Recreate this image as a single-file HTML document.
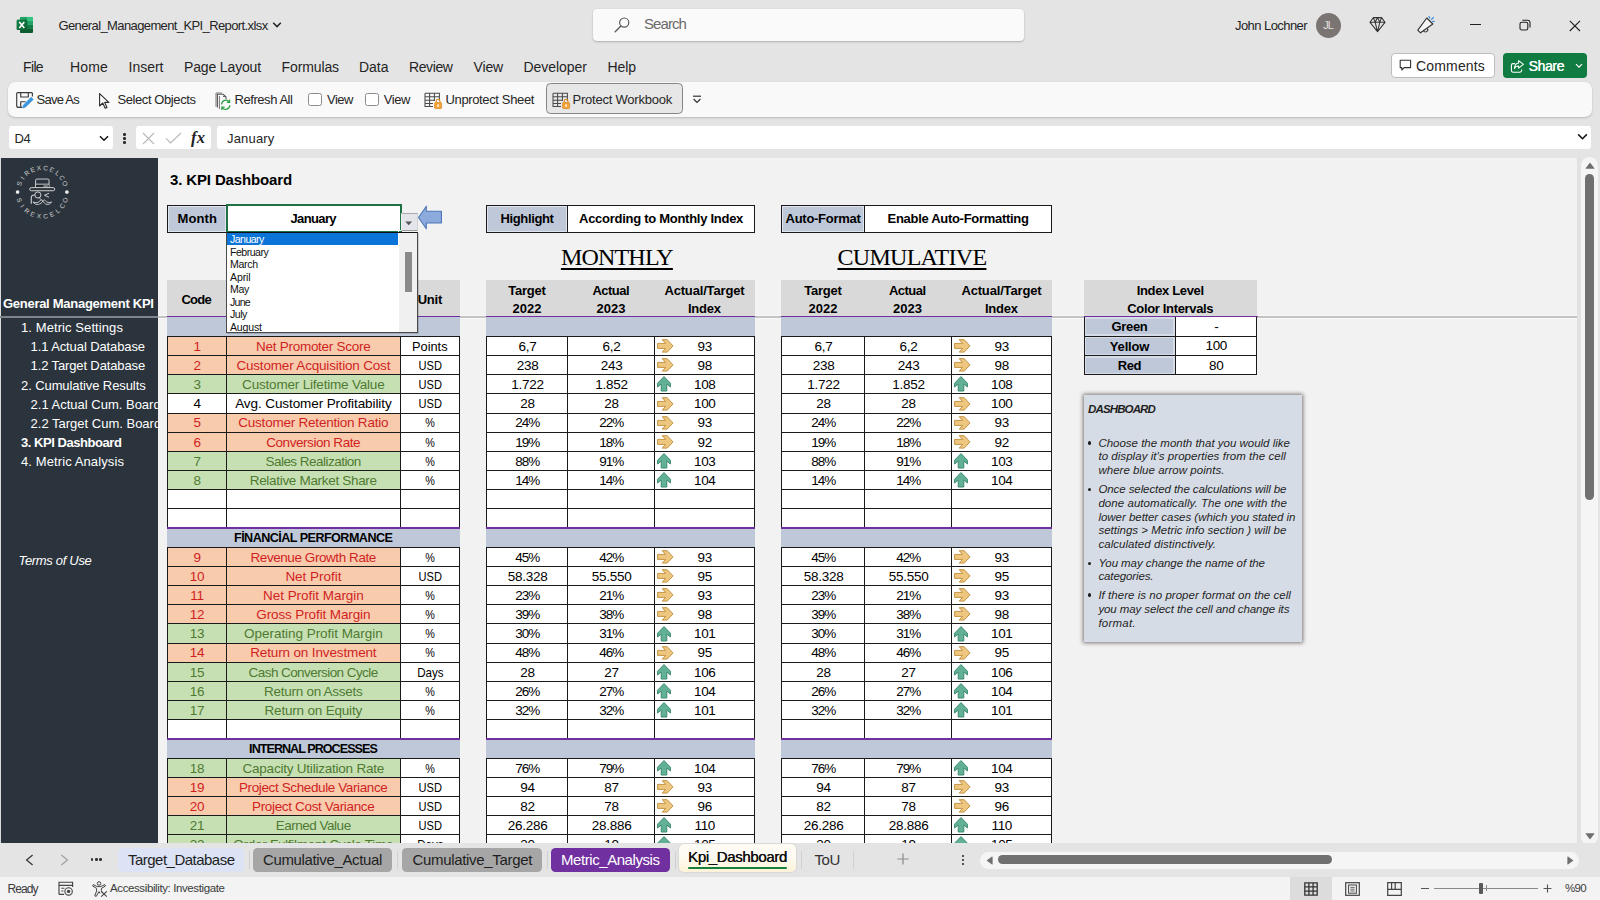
<!DOCTYPE html>
<html><head><meta charset="utf-8"><title>Excel</title>
<style>
html,body{margin:0;padding:0;}
body{width:1600px;height:900px;overflow:hidden;position:relative;background:#e4e4e4;font-family:"Liberation Sans",sans-serif;}
div,svg{position:absolute;box-sizing:border-box;}
svg{overflow:visible;}
</style></head><body>
<svg style="left:16.00px;top:16.00px;" width="17" height="17" viewBox="0 0 17 17">
<clipPath id="xlc"><rect x="3.9" y="0.75" width="13.1" height="16.25" rx="1.1"/></clipPath>
<g clip-path="url(#xlc)">
<rect x="3.9" y="0.75" width="7.1" height="4.1" fill="#21a366"/><rect x="11" y="0.75" width="6" height="4.1" fill="#33c481"/>
<rect x="3.9" y="4.85" width="7.1" height="4.05" fill="#107c41"/><rect x="11" y="4.85" width="6" height="4.05" fill="#21a366"/>
<rect x="3.9" y="8.9" width="7.1" height="4.05" fill="#185c37"/><rect x="11" y="8.9" width="6" height="4.05" fill="#107c41"/>
<rect x="3.9" y="12.95" width="13.1" height="4.05" fill="#0e5c2f"/>
</g>
<rect x="0.75" y="3.85" width="10.5" height="10.15" rx="1" fill="#0b6e38"/>
<rect x="0.75" y="3.85" width="10.5" height="10.15" rx="1" fill="url(#xlg)"/>
<defs><linearGradient id="xlg" x1="0" y1="0" x2="1" y2="1"><stop offset="0" stop-color="#17864a"/><stop offset="1" stop-color="#0a5e30"/></linearGradient></defs>
<path d="M3.3 5.9 L8.3 12 M8.3 5.9 L3.3 12" stroke="#fff" stroke-width="1.55" fill="none"/>
</svg>
<div style="left:58.50px;top:16.50px;line-height:17px;font-size:13px;color:#242424;white-space:nowrap;letter-spacing:-0.611px;">General_Management_KPI_Report.xlsx</div>
<svg style="left:272.00px;top:21.00px;" width="10" height="8" viewBox="0 0 10 8"><path d="M1.2 1.8 L5 5.6 L8.8 1.8" stroke="#242424" stroke-width="1.5" fill="none"/></svg>
<div style="left:593.00px;top:9.00px;width:431.00px;height:32.00px;background:#fafafa;border-radius:4px;box-shadow:0 1px 2px rgba(0,0,0,.22),0 0 1px rgba(0,0,0,.12);"></div>
<svg style="left:614.00px;top:16.00px;" width="17" height="17" viewBox="0 0 17 17"><circle cx="10.2" cy="6.6" r="4.6" stroke="#5a5a5a" stroke-width="1.2" fill="none"/><path d="M6.9 10 L1.2 15.8" stroke="#5a5a5a" stroke-width="1.3" stroke-linecap="round"/></svg>
<div style="left:644.00px;top:14.30px;line-height:20px;font-size:15px;color:#6a6a6a;white-space:nowrap;letter-spacing:-0.921px;">Search</div>
<div style="left:1235.00px;top:17.00px;line-height:17px;font-size:13px;color:#242424;white-space:nowrap;letter-spacing:-0.565px;">John Lochner</div>
<div style="left:1315.50px;top:12.50px;width:25.00px;height:25.00px;background:#7a7473;border-radius:50%;"></div>
<div style="left:1323.14px;top:18.40px;line-height:14px;font-size:11px;color:#e4e0de;white-space:nowrap;letter-spacing:-0.900px;">JL</div>
<svg style="left:1369.00px;top:16.00px;" width="17" height="17" viewBox="0 0 17 17"><path d="M4.4 1.6 H12.6 L16 6.3 L8.5 15.6 L1 6.3 Z M1 6.3 H16 M4.4 1.6 L6.2 6.3 L8.5 15.6 L10.8 6.3 L12.6 1.6 M6.2 6.3 L8.5 1.6 L10.8 6.3" stroke="#333" stroke-width="1.05" fill="none" stroke-linejoin="round"/></svg>
<svg style="left:1416.00px;top:15.00px;" width="20" height="19" viewBox="0 0 20 19"><path d="M1.8 15.2 L10.8 3 L16.8 9 L4.5 17.8 Z" stroke="#333" stroke-width="1.15" fill="#f4f4f4" stroke-linejoin="round"/><path d="M7.4 15.8 A2.1 2.1 0 0 0 11.4 13.4" stroke="#333" stroke-width="1.05" fill="none"/><path d="M13 1.6 L13.8 3 M15.6 4.4 L17.4 2.4 M16.6 6.6 L18.2 6.2" stroke="#2b88d8" stroke-width="1.15" stroke-linecap="round"/></svg>
<div style="left:1470.00px;top:24.00px;width:10.50px;height:1.20px;background:#222;"></div>
<svg style="left:1519.00px;top:19.00px;" width="12" height="12" viewBox="0 0 12 12"><rect x="1" y="3.2" width="7.8" height="7.8" rx="1.8" stroke="#222" stroke-width="1.1" fill="none"/><path d="M3.4 1.2 H8.8 A2.2 2.2 0 0 1 11 3.4 V8.6" stroke="#222" stroke-width="1.1" fill="none"/></svg>
<svg style="left:1569.00px;top:19.50px;" width="12" height="12" viewBox="0 0 12 12"><path d="M0.8 0.8 L11 11 M11 0.8 L0.8 11" stroke="#222" stroke-width="1.15"/></svg>
<div style="left:23.00px;top:57.50px;line-height:18px;font-size:14px;color:#242424;white-space:nowrap;letter-spacing:-0.640px;">File</div>
<div style="left:70.00px;top:57.50px;line-height:18px;font-size:14px;color:#242424;white-space:nowrap;letter-spacing:0.164px;">Home</div>
<div style="left:128.50px;top:57.50px;line-height:18px;font-size:14px;color:#242424;white-space:nowrap;letter-spacing:-0.002px;">Insert</div>
<div style="left:184.00px;top:57.50px;line-height:18px;font-size:14px;color:#242424;white-space:nowrap;letter-spacing:-0.147px;">Page Layout</div>
<div style="left:281.50px;top:57.50px;line-height:18px;font-size:14px;color:#242424;white-space:nowrap;letter-spacing:-0.106px;">Formulas</div>
<div style="left:359.00px;top:57.50px;line-height:18px;font-size:14px;color:#242424;white-space:nowrap;letter-spacing:-0.018px;">Data</div>
<div style="left:409.00px;top:57.50px;line-height:18px;font-size:14px;color:#242424;white-space:nowrap;letter-spacing:-0.401px;">Review</div>
<div style="left:473.50px;top:57.50px;line-height:18px;font-size:14px;color:#242424;white-space:nowrap;letter-spacing:-0.148px;">View</div>
<div style="left:523.50px;top:57.50px;line-height:18px;font-size:14px;color:#242424;white-space:nowrap;letter-spacing:-0.035px;">Developer</div>
<div style="left:607.50px;top:57.50px;line-height:18px;font-size:14px;color:#242424;white-space:nowrap;letter-spacing:-0.073px;">Help</div>
<div style="left:1391.00px;top:53.00px;width:103.50px;height:25.00px;background:#fff;border:1px solid #bdbdbd;border-radius:4px;"></div>
<svg style="left:1399.00px;top:59.00px;" width="13" height="13" viewBox="0 0 13 13"><path d="M1.2 1.2 H11.6 V8.6 H5.2 L2.8 11 V8.6 H1.2 Z" stroke="#333" stroke-width="1.1" fill="none" stroke-linejoin="round"/></svg>
<div style="left:1416.00px;top:57.00px;line-height:18px;font-size:14px;color:#242424;white-space:nowrap;letter-spacing:0.165px;">Comments</div>
<div style="left:1503.00px;top:53.00px;width:84.00px;height:25.00px;background:#107c41;border-radius:4px;"></div>
<svg style="left:1510.00px;top:58.50px;" width="15" height="15" viewBox="0 0 15 15"><path d="M5 4.6 H3 A1.6 1.6 0 0 0 1.4 6.2 V11.6 A1.6 1.6 0 0 0 3 13.2 H10 A1.6 1.6 0 0 0 11.6 11.6 V10.4" stroke="#fff" stroke-width="1.1" fill="none"/><path d="M8.6 1.6 L13.4 5.4 L8.6 9.2 V7 C6.6 7 5.2 7.8 4.4 9.6 C4.6 6.4 6 4.2 8.6 3.9 Z" stroke="#fff" stroke-width="1.05" fill="none" stroke-linejoin="round"/></svg>
<div style="left:1528.50px;top:57.00px;line-height:18px;font-size:14px;color:#fff;white-space:nowrap;letter-spacing:-0.372px;text-shadow:0.3px 0 0 #fff;">Share</div>
<svg style="left:1575.00px;top:63.00px;" width="8" height="6" viewBox="0 0 8 6"><path d="M1 1.2 L4 4.2 L7 1.2" stroke="#fff" stroke-width="1.2" fill="none"/></svg>
<div style="left:8.00px;top:82.00px;width:1583.80px;height:34.50px;background:#f9f9f9;border-radius:7px;box-shadow:0 1px 2px rgba(0,0,0,.18),0 0 1px rgba(0,0,0,.10);"></div>
<svg style="left:15.50px;top:92.00px;" width="18" height="17" viewBox="0 0 18 17"><path d="M16.4 4.6 V1.6 Q16.4 0.6 15.4 0.6 H1.7 Q0.7 0.6 0.7 1.6 V13.4 Q0.7 15.4 2.6 15.4 H6.2 M4.7 0.6 V5 H12.3 V0.6 M4.7 15.4 V9.7 H9.6" stroke="#3b3b3b" stroke-width="1.15" fill="none" stroke-linejoin="round"/><path d="M15.1 5.2 L17.3 7.4 L9.6 15.1 L6.6 16 L7.5 13 Z" fill="#3a96dd" stroke="#2b7fc4" stroke-width=".5" stroke-linejoin="round"/></svg>
<div style="left:36.60px;top:91.00px;line-height:17px;font-size:13px;color:#262626;white-space:nowrap;letter-spacing:-0.756px;">Save As</div>
<svg style="left:97.50px;top:92.00px;" width="13" height="18" viewBox="0 0 13 18"><path d="M1.6 1.6 V14 L4.8 11 L7.2 16.2 L9 15.4 L6.7 10.4 H10.8 Z" stroke="#2b2b2b" stroke-width="1.1" fill="#fff" stroke-linejoin="round"/></svg>
<div style="left:117.50px;top:91.00px;line-height:17px;font-size:13px;color:#262626;white-space:nowrap;letter-spacing:-0.415px;">Select Objects</div>
<svg style="left:214.50px;top:91.50px;" width="17" height="19" viewBox="0 0 17 19"><path d="M2.4 15.6 V2.2 H8.2 L11 5 V7" stroke="#555" stroke-width="1.1" fill="none"/><path d="M4.4 17 V4 M1 14.6 V1 H7" stroke="#777" stroke-width="1" fill="none"/><path d="M8 4.4 H11" stroke="#555" stroke-width="1"/><path d="M6.6 12.4 A4.2 4.2 0 0 1 14.2 10 M14.6 7.6 V10.4 H11.8 M14.8 13.2 A4.2 4.2 0 0 1 7.2 15.6 M6.8 18 V15.2 H9.6" stroke="#2ea043" stroke-width="1.25" fill="none"/></svg>
<div style="left:234.50px;top:91.00px;line-height:17px;font-size:13px;color:#262626;white-space:nowrap;letter-spacing:-0.442px;">Refresh All</div>
<div style="left:308.00px;top:92.50px;width:13.50px;height:13.50px;background:#fff;border:1px solid #8c8c8c;border-radius:2.5px;"></div>
<div style="left:327.00px;top:91.00px;line-height:17px;font-size:13px;color:#262626;white-space:nowrap;letter-spacing:-0.485px;">View</div>
<div style="left:365.00px;top:92.50px;width:13.50px;height:13.50px;background:#fff;border:1px solid #8c8c8c;border-radius:2.5px;"></div>
<div style="left:383.80px;top:91.00px;line-height:17px;font-size:13px;color:#262626;white-space:nowrap;letter-spacing:-0.485px;">View</div>
<svg style="left:423.50px;top:92.00px;" width="18" height="17" viewBox="0 0 18 17"><path d="M1 1.2 H15.4 V9 M1 1.2 V14.4 H9 M1 4.8 H15.4 M1 8.2 H11 M1 11.4 H9 M5.6 1.2 V14.4 M10.4 1.2 V9" stroke="#4a4a4a" stroke-width="1.05" fill="none"/><rect x="10.6" y="10.6" width="7" height="6" rx=".8" fill="#f3a63a" stroke="#d9801a" stroke-width=".7"/><rect x="13.3" y="12.4" width="1.6" height="2.4" fill="#fff3dd"/><path d="M12.2 10.6 V9.2 A1.9 1.9 0 0 1 16 9.2 V10.6" stroke="#e08a1c" stroke-width="1.1" fill="none"/></svg>
<div style="left:445.50px;top:91.00px;line-height:17px;font-size:13px;color:#262626;white-space:nowrap;letter-spacing:-0.363px;">Unprotect Sheet</div>
<div style="left:546.00px;top:83.00px;width:136.50px;height:31.40px;background:#e7e7e7;border:1px solid #858585;border-radius:4.5px;"></div>
<svg style="left:551.50px;top:92.00px;" width="18" height="17" viewBox="0 0 18 17"><path d="M1 1.2 H15.4 V9 M1 1.2 V14.4 H9 M1 4.8 H15.4 M1 8.2 H11 M1 11.4 H9 M5.6 1.2 V14.4 M10.4 1.2 V9" stroke="#4a4a4a" stroke-width="1.05" fill="none"/><rect x="10.6" y="10.6" width="7" height="6" rx=".8" fill="#f3a63a" stroke="#d9801a" stroke-width=".7"/><rect x="13.3" y="12.4" width="1.6" height="2.4" fill="#fff3dd"/><path d="M12.2 10.6 V9.2 A1.9 1.9 0 0 1 16 9.2 V10.6" stroke="#e08a1c" stroke-width="1.1" fill="none"/></svg>
<div style="left:572.50px;top:91.00px;line-height:17px;font-size:13px;color:#262626;white-space:nowrap;letter-spacing:-0.224px;">Protect Workbook</div>
<svg style="left:692.00px;top:95.00px;" width="10" height="9" viewBox="0 0 10 9"><path d="M1 1.2 H9" stroke="#333" stroke-width="1.2"/><path d="M1.6 4 L5 7.4 L8.4 4" stroke="#333" stroke-width="1.2" fill="none"/></svg>
<div style="left:9.00px;top:126.00px;width:104.00px;height:23.00px;background:#fff;border-radius:3px;"></div>
<div style="left:14.50px;top:129.50px;line-height:17px;font-size:13px;color:#242424;white-space:nowrap;letter-spacing:-0.309px;">D4</div>
<svg style="left:99.00px;top:135.00px;" width="10" height="7" viewBox="0 0 10 7"><path d="M1 1.2 L5 5.2 L9 1.2" stroke="#111" stroke-width="1.5" fill="none"/></svg>
<div style="left:123.40px;top:133.20px;width:2.50px;height:2.50px;background:#2a2a2a;border-radius:50%;"></div>
<div style="left:123.40px;top:137.20px;width:2.50px;height:2.50px;background:#2a2a2a;border-radius:50%;"></div>
<div style="left:123.40px;top:141.20px;width:2.50px;height:2.50px;background:#2a2a2a;border-radius:50%;"></div>
<div style="left:136.00px;top:126.00px;width:75.00px;height:23.00px;background:#fff;border-radius:3px;"></div>
<svg style="left:142.00px;top:131.50px;" width="13" height="13" viewBox="0 0 13 13"><path d="M1 1 L12 12 M12 1 L1 12" stroke="#b8b8b8" stroke-width="1.1"/></svg>
<svg style="left:165.00px;top:132.00px;" width="17" height="12" viewBox="0 0 17 12"><path d="M1 6.4 L5.6 11 L16 1" stroke="#b8b8b8" stroke-width="1.1" fill="none"/></svg>
<div style="left:191.00px;top:126.70px;line-height:21px;font-size:16.5px;color:#222;white-space:nowrap;font-weight:bold;font-style:italic;font-family:'Liberation Serif',serif;letter-spacing:0.377px;">fx</div>
<div style="left:217.00px;top:126.00px;width:1374.00px;height:23.00px;background:#fff;border-radius:3px;"></div>
<div style="left:227.00px;top:129.50px;line-height:17px;font-size:13px;color:#242424;white-space:nowrap;letter-spacing:0.179px;">January</div>
<svg style="left:1577.00px;top:133.40px;" width="11" height="8" viewBox="0 0 11 8"><path d="M1.2 1.4 L5.5 5.7 L9.8 1.4" stroke="#111" stroke-width="1.5" fill="none"/></svg>
<div style="left:0;top:157.6px;width:1577.3px;height:685.6px;background:#f2f2f2;overflow:hidden;">
<div style="left:0.00px;top:0.00px;width:1.20px;height:700.00px;background:#d8dadb;"></div>
<div style="left:1.20px;top:0.00px;width:156.40px;height:700.00px;background:#2b343d;"></div>
<svg style="left:8.00px;top:2.40px;" width="70" height="64" viewBox="0 0 70 64"><g font-family="Liberation Sans" font-size="6.5" fill="#cfcfcf"><text transform="translate(13.57 24.48) rotate(-70.0)" text-anchor="middle">S</text><text transform="translate(16.35 19.21) rotate(-54.4)" text-anchor="middle">I</text><text transform="translate(20.43 14.88) rotate(-38.9)" text-anchor="middle">R</text><text transform="translate(25.53 11.80) rotate(-23.3)" text-anchor="middle">E</text><text transform="translate(31.27 10.21) rotate(-7.8)" text-anchor="middle">X</text><text transform="translate(37.22 10.21) rotate(7.8)" text-anchor="middle">C</text><text transform="translate(42.96 11.80) rotate(23.3)" text-anchor="middle">E</text><text transform="translate(48.06 14.88) rotate(38.9)" text-anchor="middle">L</text><text transform="translate(52.14 19.21) rotate(54.4)" text-anchor="middle">C</text><text transform="translate(54.92 24.48) rotate(70.0)" text-anchor="middle">O</text><text transform="translate(9.17 40.88) rotate(70.5)" text-anchor="middle">S</text><text transform="translate(12.50 47.33) rotate(54.8)" text-anchor="middle">I</text><text transform="translate(17.45 52.63) rotate(39.2)" text-anchor="middle">R</text><text transform="translate(23.64 56.40) rotate(23.5)" text-anchor="middle">E</text><text transform="translate(30.62 58.36) rotate(7.8)" text-anchor="middle">X</text><text transform="translate(37.87 58.36) rotate(-7.8)" text-anchor="middle">C</text><text transform="translate(44.85 56.40) rotate(-23.5)" text-anchor="middle">E</text><text transform="translate(51.05 52.63) rotate(-39.2)" text-anchor="middle">L</text><text transform="translate(55.99 47.33) rotate(-54.8)" text-anchor="middle">C</text><text transform="translate(59.32 40.88) rotate(-70.5)" text-anchor="middle">O</text></g>
<circle cx="9.60" cy="32.01" r="1.85" fill="#f0f0f0"/><circle cx="58.89" cy="32.01" r="1.85" fill="#f0f0f0"/>
<path d="M27.60 27.38 V20.27 Q27.60 19.06 28.81 19.06 H39.83 Q41.04 19.06 41.04 20.27 V27.38 M27.60 24.18 H41.04" stroke="#d6d6d6" stroke-width="0.95" fill="none"/>
<rect x="28.17" y="24.89" width="12.38" height="2.13" fill="#20272e"/>
<rect x="35.35" y="25.32" width="4.55" height="1.56" fill="#8f959b"/>
<rect x="21.69" y="27.60" width="25.04" height="3.13" rx="1.56" stroke="#d6d6d6" stroke-width="0.95" fill="none"/>
<circle cx="29.87" cy="34.99" r="3.06" stroke="#d6d6d6" stroke-width="0.95" fill="none"/>
<path d="M26.81 34.99 C24.18 34.71 23.26 35.92 23.26 38.05 V43.74" stroke="#d6d6d6" stroke-width="1.1" fill="none"/>
<path d="M40.97 33.29 L36.42 35.28 L40.97 37.27" stroke="#d6d6d6" stroke-width="0.95" fill="none"/>
<path d="M31.29 37.84 L33.43 39.97" stroke="#d6d6d6" stroke-width="0.9" fill="none"/>
<path d="M25.04 41.96 C27.74 43.39 30.58 42.67 32.15 40.68 C33.29 39.54 34.42 39.83 34.71 41.11 C33.43 44.45 27.74 46.23 25.04 41.96 Z M43.53 41.96 C41.25 43.10 38.76 42.53 37.41 40.68 C36.42 39.54 35.28 39.83 34.99 41.11 C36.13 44.45 41.25 46.09 43.53 41.96 Z" stroke="#d6d6d6" stroke-width="0.9" fill="none"/>
</svg>
<div style="left:3.00px;top:137.90px;line-height:17px;font-size:13px;color:#fff;white-space:nowrap;font-weight:bold;letter-spacing:-0.280px;">General Management KPI</div>
<div style="left:0;top:0;width:157.6px;height:700px;overflow:hidden;">
<div style="left:21.00px;top:161.70px;line-height:17px;font-size:13px;color:#fff;white-space:nowrap;letter-spacing:0.087px;">1. Metric Settings</div>
<div style="left:30.60px;top:180.70px;line-height:17px;font-size:13px;color:#fff;white-space:nowrap;letter-spacing:-0.103px;">1.1 Actual Database</div>
<div style="left:30.60px;top:199.90px;line-height:17px;font-size:13px;color:#fff;white-space:nowrap;letter-spacing:-0.129px;">1.2 Target Database</div>
<div style="left:21.00px;top:219.10px;line-height:17px;font-size:13px;color:#fff;white-space:nowrap;letter-spacing:-0.088px;">2. Cumulative Results</div>
<div style="left:30.60px;top:238.30px;line-height:17px;font-size:13px;color:#fff;white-space:nowrap;">2.1 Actual Cum. Board</div>
<div style="left:30.60px;top:257.50px;line-height:17px;font-size:13px;color:#fff;white-space:nowrap;">2.2 Target Cum. Board</div>
<div style="left:21.00px;top:276.50px;line-height:17px;font-size:13px;color:#fff;white-space:nowrap;font-weight:bold;letter-spacing:-0.452px;">3. KPI Dashboard</div>
<div style="left:21.00px;top:295.70px;line-height:17px;font-size:13px;color:#fff;white-space:nowrap;letter-spacing:0.103px;">4. Metric Analysis</div>
<div style="left:18.50px;top:394.50px;line-height:17px;font-size:13px;color:#fff;white-space:nowrap;font-style:italic;letter-spacing:-0.318px;">Terms of Use</div>
</div>
<div style="left:0.00px;top:158.40px;width:157.60px;height:1.90px;background:#80858a;"></div>
<div style="left:157.60px;top:157.60px;width:1419.70px;height:3.40px;background:#f8f8f8;"></div>
<div style="left:157.60px;top:158.40px;width:1419.70px;height:1.90px;background:#c3c3c3;"></div>
<div style="left:170.00px;top:12.90px;line-height:20px;font-size:15px;color:#000;white-space:nowrap;font-weight:bold;letter-spacing:-0.137px;">3. KPI Dashboard</div>
<div style="left:167.00px;top:47.40px;width:234.00px;height:27.80px;background:#fff;border:1px solid #1a1a1a;"></div>
<div style="left:168.00px;top:48.40px;width:59.40px;height:25.80px;background:#bec8d9;border-right:1px solid #1a1a1a;box-shadow:inset 0 0 0 1px #dfe4ee;"></div>
<div style="left:177.50px;top:52.50px;line-height:17px;font-size:13px;color:#000;white-space:nowrap;font-weight:bold;letter-spacing:0.104px;">Month</div>
<div style="left:313.70px;top:52.50px;line-height:17px;font-size:13px;color:#000;white-space:nowrap;font-weight:bold;"></div>
<div style="left:486.00px;top:47.40px;width:269.00px;height:27.80px;background:#fff;border:1px solid #1a1a1a;"></div>
<div style="left:487.00px;top:48.40px;width:81.40px;height:25.80px;background:#bec8d9;border-right:1px solid #1a1a1a;box-shadow:inset 0 0 0 1px #dfe4ee;"></div>
<div style="left:500.52px;top:52.50px;line-height:17px;font-size:13px;color:#000;white-space:nowrap;font-weight:bold;letter-spacing:-0.369px;">Highlight</div>
<div style="left:579.06px;top:52.50px;line-height:17px;font-size:13px;color:#000;white-space:nowrap;font-weight:bold;letter-spacing:-0.276px;">According to Monthly Index</div>
<div style="left:781.00px;top:47.40px;width:271.00px;height:27.80px;background:#fff;border:1px solid #1a1a1a;"></div>
<div style="left:782.00px;top:48.40px;width:83.40px;height:25.80px;background:#bec8d9;border-right:1px solid #1a1a1a;box-shadow:inset 0 0 0 1px #dfe4ee;"></div>
<div style="left:785.56px;top:52.50px;line-height:17px;font-size:13px;color:#000;white-space:nowrap;font-weight:bold;letter-spacing:-0.272px;">Auto-Format</div>
<div style="left:887.55px;top:52.50px;line-height:17px;font-size:13px;color:#000;white-space:nowrap;font-weight:bold;letter-spacing:-0.298px;">Enable Auto-Formatting</div>
<div style="left:225.60px;top:46.20px;width:176.40px;height:29.60px;background:#fff;border:2px solid #1e7145;"></div>
<div style="left:290.44px;top:52.50px;line-height:17px;font-size:13px;color:#000;white-space:nowrap;font-weight:bold;letter-spacing:-0.623px;">January</div>
<div style="left:398.40px;top:72.20px;width:3.60px;height:2.40px;background:#1e7145;border-left:0.8px solid #fff;border-top:0.8px solid #fff;"></div>
<div style="left:401.20px;top:55.40px;width:16.60px;height:18.40px;background:#e3e5ea;border-top:1.2px solid #a8a8a8;border-bottom:1.4px solid #9c9c9c;border-left:1px solid #eef0f4;border-right:1px solid #d0d2d6;"></div>
<svg style="left:405.40px;top:63.20px;" width="8" height="5" viewBox="0 0 8 5"><path d="M0.3 0.5 H7.1 L3.7 4.2 Z" fill="#555"/></svg>
<svg style="left:417.00px;top:46.90px;" width="26" height="27" viewBox="0 0 26 27"><path d="M1.5 13.5 L9.3 2.2 V7.3 H24.45 V18.95 H9.3 V24.8 Z" fill="#8caadb" stroke="#4f76ba" stroke-width="1.1" stroke-linejoin="round"/></svg>
<div style="left:560.90px;top:84.40px;line-height:31px;font-size:24px;color:#000;white-space:nowrap;font-family:'Liberation Serif',serif;letter-spacing:-0.799px;text-decoration:underline;text-decoration-thickness:1.7px;text-underline-offset:2.5px;">MONTHLY</div>
<div style="left:837.45px;top:84.40px;line-height:31px;font-size:24px;color:#000;white-space:nowrap;font-family:'Liberation Serif',serif;letter-spacing:-0.700px;text-decoration:underline;text-decoration-thickness:1.7px;text-underline-offset:2.5px;">CUMULATIVE</div>
<div style="left:167.00px;top:122.40px;width:292.60px;height:36.60px;background:#d9d9d9;"></div>
<div style="left:167.00px;top:158.00px;width:293.20px;height:1.40px;background:#7030a0;"></div>
<div style="left:167.00px;top:159.40px;width:293.20px;height:19.40px;background:#bec8d9;"></div>
<div style="left:486.20px;top:122.40px;width:268.40px;height:36.60px;background:#d9d9d9;"></div>
<div style="left:486.20px;top:158.00px;width:269.00px;height:1.40px;background:#7030a0;"></div>
<div style="left:486.20px;top:159.40px;width:269.00px;height:19.40px;background:#bec8d9;"></div>
<div style="left:781.20px;top:122.40px;width:270.40px;height:36.60px;background:#d9d9d9;"></div>
<div style="left:781.20px;top:158.00px;width:271.00px;height:1.40px;background:#7030a0;"></div>
<div style="left:781.20px;top:159.40px;width:271.00px;height:19.40px;background:#bec8d9;"></div>
<div style="left:181.48px;top:133.40px;line-height:17px;font-size:13px;color:#000;white-space:nowrap;font-weight:bold;letter-spacing:-0.750px;">Code</div>
<div style="left:417.65px;top:133.40px;line-height:17px;font-size:13px;color:#000;white-space:nowrap;font-weight:bold;letter-spacing:-0.193px;">Unit</div>
<div style="left:508.14px;top:124.40px;line-height:17px;font-size:13px;color:#000;white-space:nowrap;font-weight:bold;letter-spacing:-0.211px;">Target</div>
<div style="left:512.51px;top:142.40px;line-height:17px;font-size:13px;color:#000;white-space:nowrap;font-weight:bold;letter-spacing:0.020px;">2022</div>
<div style="left:804.14px;top:124.40px;line-height:17px;font-size:13px;color:#000;white-space:nowrap;font-weight:bold;letter-spacing:-0.211px;">Target</div>
<div style="left:808.51px;top:142.40px;line-height:17px;font-size:13px;color:#000;white-space:nowrap;font-weight:bold;letter-spacing:0.020px;">2022</div>
<div style="left:592.48px;top:124.40px;line-height:17px;font-size:13px;color:#000;white-space:nowrap;font-weight:bold;letter-spacing:-0.538px;">Actual</div>
<div style="left:596.51px;top:142.40px;line-height:17px;font-size:13px;color:#000;white-space:nowrap;font-weight:bold;letter-spacing:0.020px;">2023</div>
<div style="left:888.98px;top:124.40px;line-height:17px;font-size:13px;color:#000;white-space:nowrap;font-weight:bold;letter-spacing:-0.538px;">Actual</div>
<div style="left:893.01px;top:142.40px;line-height:17px;font-size:13px;color:#000;white-space:nowrap;font-weight:bold;letter-spacing:0.020px;">2023</div>
<div style="left:664.42px;top:124.40px;line-height:17px;font-size:13px;color:#000;white-space:nowrap;font-weight:bold;letter-spacing:-0.162px;">Actual/Target</div>
<div style="left:687.90px;top:142.40px;line-height:17px;font-size:13px;color:#000;white-space:nowrap;font-weight:bold;letter-spacing:-0.191px;">Index</div>
<div style="left:961.42px;top:124.40px;line-height:17px;font-size:13px;color:#000;white-space:nowrap;font-weight:bold;letter-spacing:-0.162px;">Actual/Target</div>
<div style="left:984.90px;top:142.40px;line-height:17px;font-size:13px;color:#000;white-space:nowrap;font-weight:bold;letter-spacing:-0.191px;">Index</div>
<div style="left:167.20px;top:178.80px;width:233.20px;height:19.67px;background:#f8cbad;"></div>
<div style="left:400.40px;top:178.80px;width:59.20px;height:19.67px;background:#fff;"></div>
<div style="left:193.45px;top:180.18px;line-height:18px;font-size:13.5px;color:#d01f1f;white-space:nowrap;">1</div>
<div style="left:256.06px;top:180.18px;line-height:18px;font-size:13.5px;color:#d01f1f;white-space:nowrap;letter-spacing:-0.272px;">Net Promoter Score</div>
<div style="left:411.24px;top:180.18px;line-height:18px;font-size:13.5px;color:#000;white-space:nowrap;transform:scaleX(0.949);">Points</div>
<div style="left:486.40px;top:178.80px;width:268.20px;height:19.67px;background:#fff;"></div>
<div style="left:518.55px;top:180.18px;line-height:18px;font-size:13.5px;color:#000;white-space:nowrap;letter-spacing:-0.231px;">6,7</div>
<div style="left:602.55px;top:180.18px;line-height:18px;font-size:13.5px;color:#000;white-space:nowrap;letter-spacing:-0.231px;">6,2</div>
<div style="left:697.53px;top:180.18px;line-height:18px;font-size:13.5px;color:#000;white-space:nowrap;letter-spacing:-0.278px;">93</div>
<svg style="left:656.50px;top:181.50px;" width="17" height="14" viewBox="0 0 17 14"><path d="M0.6 4.4 H8.6 L5.2 0.7 H10.2 L16 6.9 L10.2 13.1 H5.2 L8.6 9.4 H0.6 Z" fill="#edc680" stroke="#c49443" stroke-width="1" stroke-linejoin="round"/></svg>
<div style="left:781.40px;top:178.80px;width:270.20px;height:19.67px;background:#fff;"></div>
<div style="left:814.55px;top:180.18px;line-height:18px;font-size:13.5px;color:#000;white-space:nowrap;letter-spacing:-0.231px;">6,7</div>
<div style="left:899.55px;top:180.18px;line-height:18px;font-size:13.5px;color:#000;white-space:nowrap;letter-spacing:-0.231px;">6,2</div>
<div style="left:994.53px;top:180.18px;line-height:18px;font-size:13.5px;color:#000;white-space:nowrap;letter-spacing:-0.278px;">93</div>
<svg style="left:953.50px;top:181.50px;" width="17" height="14" viewBox="0 0 17 14"><path d="M0.6 4.4 H8.6 L5.2 0.7 H10.2 L16 6.9 L10.2 13.1 H5.2 L8.6 9.4 H0.6 Z" fill="#edc680" stroke="#c49443" stroke-width="1" stroke-linejoin="round"/></svg>
<div style="left:167.20px;top:197.97px;width:233.20px;height:19.67px;background:#f8cbad;"></div>
<div style="left:400.40px;top:197.97px;width:59.20px;height:19.67px;background:#fff;"></div>
<div style="left:193.45px;top:199.35px;line-height:18px;font-size:13.5px;color:#d01f1f;white-space:nowrap;">2</div>
<div style="left:236.41px;top:199.35px;line-height:18px;font-size:13.5px;color:#d01f1f;white-space:nowrap;letter-spacing:-0.180px;">Customer Acquisition Cost</div>
<div style="left:415.75px;top:199.35px;line-height:18px;font-size:13.5px;color:#000;white-space:nowrap;transform:scaleX(0.821);">USD</div>
<div style="left:486.40px;top:197.97px;width:268.20px;height:19.67px;background:#fff;"></div>
<div style="left:516.72px;top:199.35px;line-height:18px;font-size:13.5px;color:#000;white-space:nowrap;letter-spacing:-0.278px;">238</div>
<div style="left:600.72px;top:199.35px;line-height:18px;font-size:13.5px;color:#000;white-space:nowrap;letter-spacing:-0.278px;">243</div>
<div style="left:697.53px;top:199.35px;line-height:18px;font-size:13.5px;color:#000;white-space:nowrap;letter-spacing:-0.278px;">98</div>
<svg style="left:656.50px;top:200.67px;" width="17" height="14" viewBox="0 0 17 14"><path d="M0.6 4.4 H8.6 L5.2 0.7 H10.2 L16 6.9 L10.2 13.1 H5.2 L8.6 9.4 H0.6 Z" fill="#edc680" stroke="#c49443" stroke-width="1" stroke-linejoin="round"/></svg>
<div style="left:781.40px;top:197.97px;width:270.20px;height:19.67px;background:#fff;"></div>
<div style="left:812.72px;top:199.35px;line-height:18px;font-size:13.5px;color:#000;white-space:nowrap;letter-spacing:-0.278px;">238</div>
<div style="left:897.72px;top:199.35px;line-height:18px;font-size:13.5px;color:#000;white-space:nowrap;letter-spacing:-0.278px;">243</div>
<div style="left:994.53px;top:199.35px;line-height:18px;font-size:13.5px;color:#000;white-space:nowrap;letter-spacing:-0.278px;">98</div>
<svg style="left:953.50px;top:200.67px;" width="17" height="14" viewBox="0 0 17 14"><path d="M0.6 4.4 H8.6 L5.2 0.7 H10.2 L16 6.9 L10.2 13.1 H5.2 L8.6 9.4 H0.6 Z" fill="#edc680" stroke="#c49443" stroke-width="1" stroke-linejoin="round"/></svg>
<div style="left:167.20px;top:217.14px;width:233.20px;height:19.67px;background:#c6e0b4;"></div>
<div style="left:400.40px;top:217.14px;width:59.20px;height:19.67px;background:#fff;"></div>
<div style="left:193.45px;top:218.53px;line-height:18px;font-size:13.5px;color:#4f7a31;white-space:nowrap;">3</div>
<div style="left:242.10px;top:218.53px;line-height:18px;font-size:13.5px;color:#4f7a31;white-space:nowrap;letter-spacing:-0.192px;">Customer Lifetime Value</div>
<div style="left:415.75px;top:218.53px;line-height:18px;font-size:13.5px;color:#000;white-space:nowrap;transform:scaleX(0.821);">USD</div>
<div style="left:486.40px;top:217.14px;width:268.20px;height:19.67px;background:#fff;"></div>
<div style="left:511.31px;top:218.53px;line-height:18px;font-size:13.5px;color:#000;white-space:nowrap;letter-spacing:-0.250px;">1.722</div>
<div style="left:595.31px;top:218.53px;line-height:18px;font-size:13.5px;color:#000;white-space:nowrap;letter-spacing:-0.250px;">1.852</div>
<div style="left:693.92px;top:218.53px;line-height:18px;font-size:13.5px;color:#000;white-space:nowrap;letter-spacing:-0.278px;">108</div>
<svg style="left:657.30px;top:218.74px;" width="14" height="16" viewBox="0 0 14 16"><path d="M7 0.6 L13.4 7.2 V11 L9.8 8 V15 H4.2 V8 L0.6 11 V7.2 Z" fill="#62b096" stroke="#3c8a71" stroke-width="1" stroke-linejoin="round"/></svg>
<div style="left:781.40px;top:217.14px;width:270.20px;height:19.67px;background:#fff;"></div>
<div style="left:807.31px;top:218.53px;line-height:18px;font-size:13.5px;color:#000;white-space:nowrap;letter-spacing:-0.250px;">1.722</div>
<div style="left:892.31px;top:218.53px;line-height:18px;font-size:13.5px;color:#000;white-space:nowrap;letter-spacing:-0.250px;">1.852</div>
<div style="left:990.92px;top:218.53px;line-height:18px;font-size:13.5px;color:#000;white-space:nowrap;letter-spacing:-0.278px;">108</div>
<svg style="left:954.30px;top:218.74px;" width="14" height="16" viewBox="0 0 14 16"><path d="M7 0.6 L13.4 7.2 V11 L9.8 8 V15 H4.2 V8 L0.6 11 V7.2 Z" fill="#62b096" stroke="#3c8a71" stroke-width="1" stroke-linejoin="round"/></svg>
<div style="left:167.20px;top:236.31px;width:233.20px;height:19.67px;background:#fff;"></div>
<div style="left:400.40px;top:236.31px;width:59.20px;height:19.67px;background:#fff;"></div>
<div style="left:193.45px;top:237.69px;line-height:18px;font-size:13.5px;color:#000;white-space:nowrap;">4</div>
<div style="left:235.16px;top:237.69px;line-height:18px;font-size:13.5px;color:#000;white-space:nowrap;letter-spacing:-0.089px;">Avg. Customer Profitability</div>
<div style="left:415.75px;top:237.69px;line-height:18px;font-size:13.5px;color:#000;white-space:nowrap;transform:scaleX(0.821);">USD</div>
<div style="left:486.40px;top:236.31px;width:268.20px;height:19.67px;background:#fff;"></div>
<div style="left:520.33px;top:237.69px;line-height:18px;font-size:13.5px;color:#000;white-space:nowrap;letter-spacing:-0.278px;">28</div>
<div style="left:604.33px;top:237.69px;line-height:18px;font-size:13.5px;color:#000;white-space:nowrap;letter-spacing:-0.278px;">28</div>
<div style="left:693.92px;top:237.69px;line-height:18px;font-size:13.5px;color:#000;white-space:nowrap;letter-spacing:-0.278px;">100</div>
<svg style="left:656.50px;top:239.01px;" width="17" height="14" viewBox="0 0 17 14"><path d="M0.6 4.4 H8.6 L5.2 0.7 H10.2 L16 6.9 L10.2 13.1 H5.2 L8.6 9.4 H0.6 Z" fill="#edc680" stroke="#c49443" stroke-width="1" stroke-linejoin="round"/></svg>
<div style="left:781.40px;top:236.31px;width:270.20px;height:19.67px;background:#fff;"></div>
<div style="left:816.33px;top:237.69px;line-height:18px;font-size:13.5px;color:#000;white-space:nowrap;letter-spacing:-0.278px;">28</div>
<div style="left:901.33px;top:237.69px;line-height:18px;font-size:13.5px;color:#000;white-space:nowrap;letter-spacing:-0.278px;">28</div>
<div style="left:990.92px;top:237.69px;line-height:18px;font-size:13.5px;color:#000;white-space:nowrap;letter-spacing:-0.278px;">100</div>
<svg style="left:953.50px;top:239.01px;" width="17" height="14" viewBox="0 0 17 14"><path d="M0.6 4.4 H8.6 L5.2 0.7 H10.2 L16 6.9 L10.2 13.1 H5.2 L8.6 9.4 H0.6 Z" fill="#edc680" stroke="#c49443" stroke-width="1" stroke-linejoin="round"/></svg>
<div style="left:167.20px;top:255.48px;width:233.20px;height:19.67px;background:#f8cbad;"></div>
<div style="left:400.40px;top:255.48px;width:59.20px;height:19.67px;background:#fff;"></div>
<div style="left:193.45px;top:256.87px;line-height:18px;font-size:13.5px;color:#d01f1f;white-space:nowrap;">5</div>
<div style="left:238.29px;top:256.87px;line-height:18px;font-size:13.5px;color:#d01f1f;white-space:nowrap;letter-spacing:-0.222px;">Customer Retention Ratio</div>
<div style="left:424.00px;top:256.87px;line-height:18px;font-size:13.5px;color:#000;white-space:nowrap;transform:scaleX(.8);">%</div>
<div style="left:486.40px;top:255.48px;width:268.20px;height:19.67px;background:#fff;"></div>
<div style="left:515.13px;top:256.87px;line-height:18px;font-size:13.5px;color:#000;white-space:nowrap;letter-spacing:-0.940px;">24%</div>
<div style="left:599.13px;top:256.87px;line-height:18px;font-size:13.5px;color:#000;white-space:nowrap;letter-spacing:-0.940px;">22%</div>
<div style="left:697.53px;top:256.87px;line-height:18px;font-size:13.5px;color:#000;white-space:nowrap;letter-spacing:-0.278px;">93</div>
<svg style="left:656.50px;top:258.18px;" width="17" height="14" viewBox="0 0 17 14"><path d="M0.6 4.4 H8.6 L5.2 0.7 H10.2 L16 6.9 L10.2 13.1 H5.2 L8.6 9.4 H0.6 Z" fill="#edc680" stroke="#c49443" stroke-width="1" stroke-linejoin="round"/></svg>
<div style="left:781.40px;top:255.48px;width:270.20px;height:19.67px;background:#fff;"></div>
<div style="left:811.13px;top:256.87px;line-height:18px;font-size:13.5px;color:#000;white-space:nowrap;letter-spacing:-0.940px;">24%</div>
<div style="left:896.13px;top:256.87px;line-height:18px;font-size:13.5px;color:#000;white-space:nowrap;letter-spacing:-0.940px;">22%</div>
<div style="left:994.53px;top:256.87px;line-height:18px;font-size:13.5px;color:#000;white-space:nowrap;letter-spacing:-0.278px;">93</div>
<svg style="left:953.50px;top:258.18px;" width="17" height="14" viewBox="0 0 17 14"><path d="M0.6 4.4 H8.6 L5.2 0.7 H10.2 L16 6.9 L10.2 13.1 H5.2 L8.6 9.4 H0.6 Z" fill="#edc680" stroke="#c49443" stroke-width="1" stroke-linejoin="round"/></svg>
<div style="left:167.20px;top:274.65px;width:233.20px;height:19.67px;background:#f8cbad;"></div>
<div style="left:400.40px;top:274.65px;width:59.20px;height:19.67px;background:#fff;"></div>
<div style="left:193.45px;top:276.03px;line-height:18px;font-size:13.5px;color:#d01f1f;white-space:nowrap;">6</div>
<div style="left:266.27px;top:276.03px;line-height:18px;font-size:13.5px;color:#d01f1f;white-space:nowrap;letter-spacing:-0.450px;">Conversion Rate</div>
<div style="left:424.00px;top:276.03px;line-height:18px;font-size:13.5px;color:#000;white-space:nowrap;transform:scaleX(.8);">%</div>
<div style="left:486.40px;top:274.65px;width:268.20px;height:19.67px;background:#fff;"></div>
<div style="left:515.13px;top:276.03px;line-height:18px;font-size:13.5px;color:#000;white-space:nowrap;letter-spacing:-0.940px;">19%</div>
<div style="left:599.13px;top:276.03px;line-height:18px;font-size:13.5px;color:#000;white-space:nowrap;letter-spacing:-0.940px;">18%</div>
<div style="left:697.53px;top:276.03px;line-height:18px;font-size:13.5px;color:#000;white-space:nowrap;letter-spacing:-0.278px;">92</div>
<svg style="left:656.50px;top:277.35px;" width="17" height="14" viewBox="0 0 17 14"><path d="M0.6 4.4 H8.6 L5.2 0.7 H10.2 L16 6.9 L10.2 13.1 H5.2 L8.6 9.4 H0.6 Z" fill="#edc680" stroke="#c49443" stroke-width="1" stroke-linejoin="round"/></svg>
<div style="left:781.40px;top:274.65px;width:270.20px;height:19.67px;background:#fff;"></div>
<div style="left:811.13px;top:276.03px;line-height:18px;font-size:13.5px;color:#000;white-space:nowrap;letter-spacing:-0.940px;">19%</div>
<div style="left:896.13px;top:276.03px;line-height:18px;font-size:13.5px;color:#000;white-space:nowrap;letter-spacing:-0.940px;">18%</div>
<div style="left:994.53px;top:276.03px;line-height:18px;font-size:13.5px;color:#000;white-space:nowrap;letter-spacing:-0.278px;">92</div>
<svg style="left:953.50px;top:277.35px;" width="17" height="14" viewBox="0 0 17 14"><path d="M0.6 4.4 H8.6 L5.2 0.7 H10.2 L16 6.9 L10.2 13.1 H5.2 L8.6 9.4 H0.6 Z" fill="#edc680" stroke="#c49443" stroke-width="1" stroke-linejoin="round"/></svg>
<div style="left:167.20px;top:293.82px;width:233.20px;height:19.67px;background:#c6e0b4;"></div>
<div style="left:400.40px;top:293.82px;width:59.20px;height:19.67px;background:#fff;"></div>
<div style="left:193.45px;top:295.20px;line-height:18px;font-size:13.5px;color:#4f7a31;white-space:nowrap;">7</div>
<div style="left:265.44px;top:295.20px;line-height:18px;font-size:13.5px;color:#4f7a31;white-space:nowrap;letter-spacing:-0.524px;">Sales Realization</div>
<div style="left:424.00px;top:295.20px;line-height:18px;font-size:13.5px;color:#000;white-space:nowrap;transform:scaleX(.8);">%</div>
<div style="left:486.40px;top:293.82px;width:268.20px;height:19.67px;background:#fff;"></div>
<div style="left:515.13px;top:295.20px;line-height:18px;font-size:13.5px;color:#000;white-space:nowrap;letter-spacing:-0.940px;">88%</div>
<div style="left:599.13px;top:295.20px;line-height:18px;font-size:13.5px;color:#000;white-space:nowrap;letter-spacing:-0.940px;">91%</div>
<div style="left:693.92px;top:295.20px;line-height:18px;font-size:13.5px;color:#000;white-space:nowrap;letter-spacing:-0.278px;">103</div>
<svg style="left:657.30px;top:295.42px;" width="14" height="16" viewBox="0 0 14 16"><path d="M7 0.6 L13.4 7.2 V11 L9.8 8 V15 H4.2 V8 L0.6 11 V7.2 Z" fill="#62b096" stroke="#3c8a71" stroke-width="1" stroke-linejoin="round"/></svg>
<div style="left:781.40px;top:293.82px;width:270.20px;height:19.67px;background:#fff;"></div>
<div style="left:811.13px;top:295.20px;line-height:18px;font-size:13.5px;color:#000;white-space:nowrap;letter-spacing:-0.940px;">88%</div>
<div style="left:896.13px;top:295.20px;line-height:18px;font-size:13.5px;color:#000;white-space:nowrap;letter-spacing:-0.940px;">91%</div>
<div style="left:990.92px;top:295.20px;line-height:18px;font-size:13.5px;color:#000;white-space:nowrap;letter-spacing:-0.278px;">103</div>
<svg style="left:954.30px;top:295.42px;" width="14" height="16" viewBox="0 0 14 16"><path d="M7 0.6 L13.4 7.2 V11 L9.8 8 V15 H4.2 V8 L0.6 11 V7.2 Z" fill="#62b096" stroke="#3c8a71" stroke-width="1" stroke-linejoin="round"/></svg>
<div style="left:167.20px;top:312.99px;width:233.20px;height:19.67px;background:#c6e0b4;"></div>
<div style="left:400.40px;top:312.99px;width:59.20px;height:19.67px;background:#fff;"></div>
<div style="left:193.45px;top:314.38px;line-height:18px;font-size:13.5px;color:#4f7a31;white-space:nowrap;">8</div>
<div style="left:249.74px;top:314.38px;line-height:18px;font-size:13.5px;color:#4f7a31;white-space:nowrap;letter-spacing:-0.312px;">Relative Market Share</div>
<div style="left:424.00px;top:314.38px;line-height:18px;font-size:13.5px;color:#000;white-space:nowrap;transform:scaleX(.8);">%</div>
<div style="left:486.40px;top:312.99px;width:268.20px;height:19.67px;background:#fff;"></div>
<div style="left:515.13px;top:314.38px;line-height:18px;font-size:13.5px;color:#000;white-space:nowrap;letter-spacing:-0.940px;">14%</div>
<div style="left:599.13px;top:314.38px;line-height:18px;font-size:13.5px;color:#000;white-space:nowrap;letter-spacing:-0.940px;">14%</div>
<div style="left:693.92px;top:314.38px;line-height:18px;font-size:13.5px;color:#000;white-space:nowrap;letter-spacing:-0.278px;">104</div>
<svg style="left:657.30px;top:314.59px;" width="14" height="16" viewBox="0 0 14 16"><path d="M7 0.6 L13.4 7.2 V11 L9.8 8 V15 H4.2 V8 L0.6 11 V7.2 Z" fill="#62b096" stroke="#3c8a71" stroke-width="1" stroke-linejoin="round"/></svg>
<div style="left:781.40px;top:312.99px;width:270.20px;height:19.67px;background:#fff;"></div>
<div style="left:811.13px;top:314.38px;line-height:18px;font-size:13.5px;color:#000;white-space:nowrap;letter-spacing:-0.940px;">14%</div>
<div style="left:896.13px;top:314.38px;line-height:18px;font-size:13.5px;color:#000;white-space:nowrap;letter-spacing:-0.940px;">14%</div>
<div style="left:990.92px;top:314.38px;line-height:18px;font-size:13.5px;color:#000;white-space:nowrap;letter-spacing:-0.278px;">104</div>
<svg style="left:954.30px;top:314.59px;" width="14" height="16" viewBox="0 0 14 16"><path d="M7 0.6 L13.4 7.2 V11 L9.8 8 V15 H4.2 V8 L0.6 11 V7.2 Z" fill="#62b096" stroke="#3c8a71" stroke-width="1" stroke-linejoin="round"/></svg>
<div style="left:167.20px;top:332.16px;width:233.20px;height:19.67px;background:#fff;"></div>
<div style="left:400.40px;top:332.16px;width:59.20px;height:19.67px;background:#fff;"></div>
<div style="left:486.40px;top:332.16px;width:268.20px;height:19.67px;background:#fff;"></div>
<div style="left:781.40px;top:332.16px;width:270.20px;height:19.67px;background:#fff;"></div>
<div style="left:167.20px;top:351.33px;width:233.20px;height:19.67px;background:#fff;"></div>
<div style="left:400.40px;top:351.33px;width:59.20px;height:19.67px;background:#fff;"></div>
<div style="left:486.40px;top:351.33px;width:268.20px;height:19.67px;background:#fff;"></div>
<div style="left:781.40px;top:351.33px;width:270.20px;height:19.67px;background:#fff;"></div>
<div style="left:167.20px;top:389.67px;width:233.20px;height:19.67px;background:#f8cbad;"></div>
<div style="left:400.40px;top:389.67px;width:59.20px;height:19.67px;background:#fff;"></div>
<div style="left:193.45px;top:391.05px;line-height:18px;font-size:13.5px;color:#d01f1f;white-space:nowrap;">9</div>
<div style="left:250.49px;top:391.05px;line-height:18px;font-size:13.5px;color:#d01f1f;white-space:nowrap;letter-spacing:-0.430px;">Revenue Growth Rate</div>
<div style="left:424.00px;top:391.05px;line-height:18px;font-size:13.5px;color:#000;white-space:nowrap;transform:scaleX(.8);">%</div>
<div style="left:486.40px;top:389.67px;width:268.20px;height:19.67px;background:#fff;"></div>
<div style="left:515.13px;top:391.05px;line-height:18px;font-size:13.5px;color:#000;white-space:nowrap;letter-spacing:-0.940px;">45%</div>
<div style="left:599.13px;top:391.05px;line-height:18px;font-size:13.5px;color:#000;white-space:nowrap;letter-spacing:-0.940px;">42%</div>
<div style="left:697.53px;top:391.05px;line-height:18px;font-size:13.5px;color:#000;white-space:nowrap;letter-spacing:-0.278px;">93</div>
<svg style="left:656.50px;top:392.37px;" width="17" height="14" viewBox="0 0 17 14"><path d="M0.6 4.4 H8.6 L5.2 0.7 H10.2 L16 6.9 L10.2 13.1 H5.2 L8.6 9.4 H0.6 Z" fill="#edc680" stroke="#c49443" stroke-width="1" stroke-linejoin="round"/></svg>
<div style="left:781.40px;top:389.67px;width:270.20px;height:19.67px;background:#fff;"></div>
<div style="left:811.13px;top:391.05px;line-height:18px;font-size:13.5px;color:#000;white-space:nowrap;letter-spacing:-0.940px;">45%</div>
<div style="left:896.13px;top:391.05px;line-height:18px;font-size:13.5px;color:#000;white-space:nowrap;letter-spacing:-0.940px;">42%</div>
<div style="left:994.53px;top:391.05px;line-height:18px;font-size:13.5px;color:#000;white-space:nowrap;letter-spacing:-0.278px;">93</div>
<svg style="left:953.50px;top:392.37px;" width="17" height="14" viewBox="0 0 17 14"><path d="M0.6 4.4 H8.6 L5.2 0.7 H10.2 L16 6.9 L10.2 13.1 H5.2 L8.6 9.4 H0.6 Z" fill="#edc680" stroke="#c49443" stroke-width="1" stroke-linejoin="round"/></svg>
<div style="left:167.20px;top:408.84px;width:233.20px;height:19.67px;background:#f8cbad;"></div>
<div style="left:400.40px;top:408.84px;width:59.20px;height:19.67px;background:#fff;"></div>
<div style="left:189.83px;top:410.23px;line-height:18px;font-size:13.5px;color:#d01f1f;white-space:nowrap;letter-spacing:-0.278px;">10</div>
<div style="left:285.39px;top:410.23px;line-height:18px;font-size:13.5px;color:#d01f1f;white-space:nowrap;letter-spacing:-0.027px;">Net Profit</div>
<div style="left:415.75px;top:410.23px;line-height:18px;font-size:13.5px;color:#000;white-space:nowrap;transform:scaleX(0.821);">USD</div>
<div style="left:486.40px;top:408.84px;width:268.20px;height:19.67px;background:#fff;"></div>
<div style="left:507.69px;top:410.23px;line-height:18px;font-size:13.5px;color:#000;white-space:nowrap;letter-spacing:-0.255px;">58.328</div>
<div style="left:591.69px;top:410.23px;line-height:18px;font-size:13.5px;color:#000;white-space:nowrap;letter-spacing:-0.255px;">55.550</div>
<div style="left:697.53px;top:410.23px;line-height:18px;font-size:13.5px;color:#000;white-space:nowrap;letter-spacing:-0.278px;">95</div>
<svg style="left:656.50px;top:411.54px;" width="17" height="14" viewBox="0 0 17 14"><path d="M0.6 4.4 H8.6 L5.2 0.7 H10.2 L16 6.9 L10.2 13.1 H5.2 L8.6 9.4 H0.6 Z" fill="#edc680" stroke="#c49443" stroke-width="1" stroke-linejoin="round"/></svg>
<div style="left:781.40px;top:408.84px;width:270.20px;height:19.67px;background:#fff;"></div>
<div style="left:803.69px;top:410.23px;line-height:18px;font-size:13.5px;color:#000;white-space:nowrap;letter-spacing:-0.255px;">58.328</div>
<div style="left:888.69px;top:410.23px;line-height:18px;font-size:13.5px;color:#000;white-space:nowrap;letter-spacing:-0.255px;">55.550</div>
<div style="left:994.53px;top:410.23px;line-height:18px;font-size:13.5px;color:#000;white-space:nowrap;letter-spacing:-0.278px;">95</div>
<svg style="left:953.50px;top:411.54px;" width="17" height="14" viewBox="0 0 17 14"><path d="M0.6 4.4 H8.6 L5.2 0.7 H10.2 L16 6.9 L10.2 13.1 H5.2 L8.6 9.4 H0.6 Z" fill="#edc680" stroke="#c49443" stroke-width="1" stroke-linejoin="round"/></svg>
<div style="left:167.20px;top:428.01px;width:233.20px;height:19.67px;background:#f8cbad;"></div>
<div style="left:400.40px;top:428.01px;width:59.20px;height:19.67px;background:#fff;"></div>
<div style="left:190.32px;top:429.39px;line-height:18px;font-size:13.5px;color:#d01f1f;white-space:nowrap;letter-spacing:-0.259px;">11</div>
<div style="left:262.99px;top:429.39px;line-height:18px;font-size:13.5px;color:#d01f1f;white-space:nowrap;letter-spacing:-0.028px;">Net Profit Margin</div>
<div style="left:424.00px;top:429.39px;line-height:18px;font-size:13.5px;color:#000;white-space:nowrap;transform:scaleX(.8);">%</div>
<div style="left:486.40px;top:428.01px;width:268.20px;height:19.67px;background:#fff;"></div>
<div style="left:515.13px;top:429.39px;line-height:18px;font-size:13.5px;color:#000;white-space:nowrap;letter-spacing:-0.940px;">23%</div>
<div style="left:599.13px;top:429.39px;line-height:18px;font-size:13.5px;color:#000;white-space:nowrap;letter-spacing:-0.940px;">21%</div>
<div style="left:697.53px;top:429.39px;line-height:18px;font-size:13.5px;color:#000;white-space:nowrap;letter-spacing:-0.278px;">93</div>
<svg style="left:656.50px;top:430.71px;" width="17" height="14" viewBox="0 0 17 14"><path d="M0.6 4.4 H8.6 L5.2 0.7 H10.2 L16 6.9 L10.2 13.1 H5.2 L8.6 9.4 H0.6 Z" fill="#edc680" stroke="#c49443" stroke-width="1" stroke-linejoin="round"/></svg>
<div style="left:781.40px;top:428.01px;width:270.20px;height:19.67px;background:#fff;"></div>
<div style="left:811.13px;top:429.39px;line-height:18px;font-size:13.5px;color:#000;white-space:nowrap;letter-spacing:-0.940px;">23%</div>
<div style="left:896.13px;top:429.39px;line-height:18px;font-size:13.5px;color:#000;white-space:nowrap;letter-spacing:-0.940px;">21%</div>
<div style="left:994.53px;top:429.39px;line-height:18px;font-size:13.5px;color:#000;white-space:nowrap;letter-spacing:-0.278px;">93</div>
<svg style="left:953.50px;top:430.71px;" width="17" height="14" viewBox="0 0 17 14"><path d="M0.6 4.4 H8.6 L5.2 0.7 H10.2 L16 6.9 L10.2 13.1 H5.2 L8.6 9.4 H0.6 Z" fill="#edc680" stroke="#c49443" stroke-width="1" stroke-linejoin="round"/></svg>
<div style="left:167.20px;top:447.18px;width:233.20px;height:19.67px;background:#f8cbad;"></div>
<div style="left:400.40px;top:447.18px;width:59.20px;height:19.67px;background:#fff;"></div>
<div style="left:189.83px;top:448.56px;line-height:18px;font-size:13.5px;color:#d01f1f;white-space:nowrap;letter-spacing:-0.278px;">12</div>
<div style="left:256.34px;top:448.56px;line-height:18px;font-size:13.5px;color:#d01f1f;white-space:nowrap;letter-spacing:-0.120px;">Gross Profit Margin</div>
<div style="left:424.00px;top:448.56px;line-height:18px;font-size:13.5px;color:#000;white-space:nowrap;transform:scaleX(.8);">%</div>
<div style="left:486.40px;top:447.18px;width:268.20px;height:19.67px;background:#fff;"></div>
<div style="left:515.13px;top:448.56px;line-height:18px;font-size:13.5px;color:#000;white-space:nowrap;letter-spacing:-0.940px;">39%</div>
<div style="left:599.13px;top:448.56px;line-height:18px;font-size:13.5px;color:#000;white-space:nowrap;letter-spacing:-0.940px;">38%</div>
<div style="left:697.53px;top:448.56px;line-height:18px;font-size:13.5px;color:#000;white-space:nowrap;letter-spacing:-0.278px;">98</div>
<svg style="left:656.50px;top:449.88px;" width="17" height="14" viewBox="0 0 17 14"><path d="M0.6 4.4 H8.6 L5.2 0.7 H10.2 L16 6.9 L10.2 13.1 H5.2 L8.6 9.4 H0.6 Z" fill="#edc680" stroke="#c49443" stroke-width="1" stroke-linejoin="round"/></svg>
<div style="left:781.40px;top:447.18px;width:270.20px;height:19.67px;background:#fff;"></div>
<div style="left:811.13px;top:448.56px;line-height:18px;font-size:13.5px;color:#000;white-space:nowrap;letter-spacing:-0.940px;">39%</div>
<div style="left:896.13px;top:448.56px;line-height:18px;font-size:13.5px;color:#000;white-space:nowrap;letter-spacing:-0.940px;">38%</div>
<div style="left:994.53px;top:448.56px;line-height:18px;font-size:13.5px;color:#000;white-space:nowrap;letter-spacing:-0.278px;">98</div>
<svg style="left:953.50px;top:449.88px;" width="17" height="14" viewBox="0 0 17 14"><path d="M0.6 4.4 H8.6 L5.2 0.7 H10.2 L16 6.9 L10.2 13.1 H5.2 L8.6 9.4 H0.6 Z" fill="#edc680" stroke="#c49443" stroke-width="1" stroke-linejoin="round"/></svg>
<div style="left:167.20px;top:466.35px;width:233.20px;height:19.67px;background:#c6e0b4;"></div>
<div style="left:400.40px;top:466.35px;width:59.20px;height:19.67px;background:#fff;"></div>
<div style="left:189.83px;top:467.74px;line-height:18px;font-size:13.5px;color:#4f7a31;white-space:nowrap;letter-spacing:-0.278px;">13</div>
<div style="left:244.08px;top:467.74px;line-height:18px;font-size:13.5px;color:#4f7a31;white-space:nowrap;letter-spacing:-0.042px;">Operating Profit Margin</div>
<div style="left:424.00px;top:467.74px;line-height:18px;font-size:13.5px;color:#000;white-space:nowrap;transform:scaleX(.8);">%</div>
<div style="left:486.40px;top:466.35px;width:268.20px;height:19.67px;background:#fff;"></div>
<div style="left:515.13px;top:467.74px;line-height:18px;font-size:13.5px;color:#000;white-space:nowrap;letter-spacing:-0.940px;">30%</div>
<div style="left:599.13px;top:467.74px;line-height:18px;font-size:13.5px;color:#000;white-space:nowrap;letter-spacing:-0.940px;">31%</div>
<div style="left:693.92px;top:467.74px;line-height:18px;font-size:13.5px;color:#000;white-space:nowrap;letter-spacing:-0.278px;">101</div>
<svg style="left:657.30px;top:467.95px;" width="14" height="16" viewBox="0 0 14 16"><path d="M7 0.6 L13.4 7.2 V11 L9.8 8 V15 H4.2 V8 L0.6 11 V7.2 Z" fill="#62b096" stroke="#3c8a71" stroke-width="1" stroke-linejoin="round"/></svg>
<div style="left:781.40px;top:466.35px;width:270.20px;height:19.67px;background:#fff;"></div>
<div style="left:811.13px;top:467.74px;line-height:18px;font-size:13.5px;color:#000;white-space:nowrap;letter-spacing:-0.940px;">30%</div>
<div style="left:896.13px;top:467.74px;line-height:18px;font-size:13.5px;color:#000;white-space:nowrap;letter-spacing:-0.940px;">31%</div>
<div style="left:990.92px;top:467.74px;line-height:18px;font-size:13.5px;color:#000;white-space:nowrap;letter-spacing:-0.278px;">101</div>
<svg style="left:954.30px;top:467.95px;" width="14" height="16" viewBox="0 0 14 16"><path d="M7 0.6 L13.4 7.2 V11 L9.8 8 V15 H4.2 V8 L0.6 11 V7.2 Z" fill="#62b096" stroke="#3c8a71" stroke-width="1" stroke-linejoin="round"/></svg>
<div style="left:167.20px;top:485.52px;width:233.20px;height:19.67px;background:#f8cbad;"></div>
<div style="left:400.40px;top:485.52px;width:59.20px;height:19.67px;background:#fff;"></div>
<div style="left:189.83px;top:486.90px;line-height:18px;font-size:13.5px;color:#d01f1f;white-space:nowrap;letter-spacing:-0.278px;">14</div>
<div style="left:250.18px;top:486.90px;line-height:18px;font-size:13.5px;color:#d01f1f;white-space:nowrap;letter-spacing:-0.138px;">Return on Investment</div>
<div style="left:424.00px;top:486.90px;line-height:18px;font-size:13.5px;color:#000;white-space:nowrap;transform:scaleX(.8);">%</div>
<div style="left:486.40px;top:485.52px;width:268.20px;height:19.67px;background:#fff;"></div>
<div style="left:515.13px;top:486.90px;line-height:18px;font-size:13.5px;color:#000;white-space:nowrap;letter-spacing:-0.940px;">48%</div>
<div style="left:599.13px;top:486.90px;line-height:18px;font-size:13.5px;color:#000;white-space:nowrap;letter-spacing:-0.940px;">46%</div>
<div style="left:697.53px;top:486.90px;line-height:18px;font-size:13.5px;color:#000;white-space:nowrap;letter-spacing:-0.278px;">95</div>
<svg style="left:656.50px;top:488.22px;" width="17" height="14" viewBox="0 0 17 14"><path d="M0.6 4.4 H8.6 L5.2 0.7 H10.2 L16 6.9 L10.2 13.1 H5.2 L8.6 9.4 H0.6 Z" fill="#edc680" stroke="#c49443" stroke-width="1" stroke-linejoin="round"/></svg>
<div style="left:781.40px;top:485.52px;width:270.20px;height:19.67px;background:#fff;"></div>
<div style="left:811.13px;top:486.90px;line-height:18px;font-size:13.5px;color:#000;white-space:nowrap;letter-spacing:-0.940px;">48%</div>
<div style="left:896.13px;top:486.90px;line-height:18px;font-size:13.5px;color:#000;white-space:nowrap;letter-spacing:-0.940px;">46%</div>
<div style="left:994.53px;top:486.90px;line-height:18px;font-size:13.5px;color:#000;white-space:nowrap;letter-spacing:-0.278px;">95</div>
<svg style="left:953.50px;top:488.22px;" width="17" height="14" viewBox="0 0 17 14"><path d="M0.6 4.4 H8.6 L5.2 0.7 H10.2 L16 6.9 L10.2 13.1 H5.2 L8.6 9.4 H0.6 Z" fill="#edc680" stroke="#c49443" stroke-width="1" stroke-linejoin="round"/></svg>
<div style="left:167.20px;top:504.69px;width:233.20px;height:19.67px;background:#c6e0b4;"></div>
<div style="left:400.40px;top:504.69px;width:59.20px;height:19.67px;background:#fff;"></div>
<div style="left:189.83px;top:506.07px;line-height:18px;font-size:13.5px;color:#4f7a31;white-space:nowrap;letter-spacing:-0.278px;">15</div>
<div style="left:248.61px;top:506.07px;line-height:18px;font-size:13.5px;color:#4f7a31;white-space:nowrap;letter-spacing:-0.574px;">Cash Conversion Cycle</div>
<div style="left:414.62px;top:506.07px;line-height:18px;font-size:13.5px;color:#000;white-space:nowrap;transform:scaleX(0.858);">Days</div>
<div style="left:486.40px;top:504.69px;width:268.20px;height:19.67px;background:#fff;"></div>
<div style="left:520.33px;top:506.07px;line-height:18px;font-size:13.5px;color:#000;white-space:nowrap;letter-spacing:-0.278px;">28</div>
<div style="left:604.33px;top:506.07px;line-height:18px;font-size:13.5px;color:#000;white-space:nowrap;letter-spacing:-0.278px;">27</div>
<div style="left:693.92px;top:506.07px;line-height:18px;font-size:13.5px;color:#000;white-space:nowrap;letter-spacing:-0.278px;">106</div>
<svg style="left:657.30px;top:506.29px;" width="14" height="16" viewBox="0 0 14 16"><path d="M7 0.6 L13.4 7.2 V11 L9.8 8 V15 H4.2 V8 L0.6 11 V7.2 Z" fill="#62b096" stroke="#3c8a71" stroke-width="1" stroke-linejoin="round"/></svg>
<div style="left:781.40px;top:504.69px;width:270.20px;height:19.67px;background:#fff;"></div>
<div style="left:816.33px;top:506.07px;line-height:18px;font-size:13.5px;color:#000;white-space:nowrap;letter-spacing:-0.278px;">28</div>
<div style="left:901.33px;top:506.07px;line-height:18px;font-size:13.5px;color:#000;white-space:nowrap;letter-spacing:-0.278px;">27</div>
<div style="left:990.92px;top:506.07px;line-height:18px;font-size:13.5px;color:#000;white-space:nowrap;letter-spacing:-0.278px;">106</div>
<svg style="left:954.30px;top:506.29px;" width="14" height="16" viewBox="0 0 14 16"><path d="M7 0.6 L13.4 7.2 V11 L9.8 8 V15 H4.2 V8 L0.6 11 V7.2 Z" fill="#62b096" stroke="#3c8a71" stroke-width="1" stroke-linejoin="round"/></svg>
<div style="left:167.20px;top:523.86px;width:233.20px;height:19.67px;background:#c6e0b4;"></div>
<div style="left:400.40px;top:523.86px;width:59.20px;height:19.67px;background:#fff;"></div>
<div style="left:189.83px;top:525.25px;line-height:18px;font-size:13.5px;color:#4f7a31;white-space:nowrap;letter-spacing:-0.278px;">16</div>
<div style="left:264.06px;top:525.25px;line-height:18px;font-size:13.5px;color:#4f7a31;white-space:nowrap;letter-spacing:-0.275px;">Return on Assets</div>
<div style="left:424.00px;top:525.25px;line-height:18px;font-size:13.5px;color:#000;white-space:nowrap;transform:scaleX(.8);">%</div>
<div style="left:486.40px;top:523.86px;width:268.20px;height:19.67px;background:#fff;"></div>
<div style="left:515.13px;top:525.25px;line-height:18px;font-size:13.5px;color:#000;white-space:nowrap;letter-spacing:-0.940px;">26%</div>
<div style="left:599.13px;top:525.25px;line-height:18px;font-size:13.5px;color:#000;white-space:nowrap;letter-spacing:-0.940px;">27%</div>
<div style="left:693.92px;top:525.25px;line-height:18px;font-size:13.5px;color:#000;white-space:nowrap;letter-spacing:-0.278px;">104</div>
<svg style="left:657.30px;top:525.46px;" width="14" height="16" viewBox="0 0 14 16"><path d="M7 0.6 L13.4 7.2 V11 L9.8 8 V15 H4.2 V8 L0.6 11 V7.2 Z" fill="#62b096" stroke="#3c8a71" stroke-width="1" stroke-linejoin="round"/></svg>
<div style="left:781.40px;top:523.86px;width:270.20px;height:19.67px;background:#fff;"></div>
<div style="left:811.13px;top:525.25px;line-height:18px;font-size:13.5px;color:#000;white-space:nowrap;letter-spacing:-0.940px;">26%</div>
<div style="left:896.13px;top:525.25px;line-height:18px;font-size:13.5px;color:#000;white-space:nowrap;letter-spacing:-0.940px;">27%</div>
<div style="left:990.92px;top:525.25px;line-height:18px;font-size:13.5px;color:#000;white-space:nowrap;letter-spacing:-0.278px;">104</div>
<svg style="left:954.30px;top:525.46px;" width="14" height="16" viewBox="0 0 14 16"><path d="M7 0.6 L13.4 7.2 V11 L9.8 8 V15 H4.2 V8 L0.6 11 V7.2 Z" fill="#62b096" stroke="#3c8a71" stroke-width="1" stroke-linejoin="round"/></svg>
<div style="left:167.20px;top:543.03px;width:233.20px;height:19.67px;background:#c6e0b4;"></div>
<div style="left:400.40px;top:543.03px;width:59.20px;height:19.67px;background:#fff;"></div>
<div style="left:189.83px;top:544.41px;line-height:18px;font-size:13.5px;color:#4f7a31;white-space:nowrap;letter-spacing:-0.278px;">17</div>
<div style="left:264.55px;top:544.41px;line-height:18px;font-size:13.5px;color:#4f7a31;white-space:nowrap;letter-spacing:-0.191px;">Return on Equity</div>
<div style="left:424.00px;top:544.41px;line-height:18px;font-size:13.5px;color:#000;white-space:nowrap;transform:scaleX(.8);">%</div>
<div style="left:486.40px;top:543.03px;width:268.20px;height:19.67px;background:#fff;"></div>
<div style="left:515.13px;top:544.41px;line-height:18px;font-size:13.5px;color:#000;white-space:nowrap;letter-spacing:-0.940px;">32%</div>
<div style="left:599.13px;top:544.41px;line-height:18px;font-size:13.5px;color:#000;white-space:nowrap;letter-spacing:-0.940px;">32%</div>
<div style="left:693.92px;top:544.41px;line-height:18px;font-size:13.5px;color:#000;white-space:nowrap;letter-spacing:-0.278px;">101</div>
<svg style="left:657.30px;top:544.63px;" width="14" height="16" viewBox="0 0 14 16"><path d="M7 0.6 L13.4 7.2 V11 L9.8 8 V15 H4.2 V8 L0.6 11 V7.2 Z" fill="#62b096" stroke="#3c8a71" stroke-width="1" stroke-linejoin="round"/></svg>
<div style="left:781.40px;top:543.03px;width:270.20px;height:19.67px;background:#fff;"></div>
<div style="left:811.13px;top:544.41px;line-height:18px;font-size:13.5px;color:#000;white-space:nowrap;letter-spacing:-0.940px;">32%</div>
<div style="left:896.13px;top:544.41px;line-height:18px;font-size:13.5px;color:#000;white-space:nowrap;letter-spacing:-0.940px;">32%</div>
<div style="left:990.92px;top:544.41px;line-height:18px;font-size:13.5px;color:#000;white-space:nowrap;letter-spacing:-0.278px;">101</div>
<svg style="left:954.30px;top:544.63px;" width="14" height="16" viewBox="0 0 14 16"><path d="M7 0.6 L13.4 7.2 V11 L9.8 8 V15 H4.2 V8 L0.6 11 V7.2 Z" fill="#62b096" stroke="#3c8a71" stroke-width="1" stroke-linejoin="round"/></svg>
<div style="left:167.20px;top:562.20px;width:233.20px;height:19.67px;background:#fff;"></div>
<div style="left:400.40px;top:562.20px;width:59.20px;height:19.67px;background:#fff;"></div>
<div style="left:486.40px;top:562.20px;width:268.20px;height:19.67px;background:#fff;"></div>
<div style="left:781.40px;top:562.20px;width:270.20px;height:19.67px;background:#fff;"></div>
<div style="left:167.20px;top:600.54px;width:233.20px;height:19.67px;background:#c6e0b4;"></div>
<div style="left:400.40px;top:600.54px;width:59.20px;height:19.67px;background:#fff;"></div>
<div style="left:189.83px;top:601.92px;line-height:18px;font-size:13.5px;color:#4f7a31;white-space:nowrap;letter-spacing:-0.278px;">18</div>
<div style="left:242.49px;top:601.92px;line-height:18px;font-size:13.5px;color:#4f7a31;white-space:nowrap;letter-spacing:-0.219px;">Capacity Utilization Rate</div>
<div style="left:424.00px;top:601.92px;line-height:18px;font-size:13.5px;color:#000;white-space:nowrap;transform:scaleX(.8);">%</div>
<div style="left:486.40px;top:600.54px;width:268.20px;height:19.67px;background:#fff;"></div>
<div style="left:515.13px;top:601.92px;line-height:18px;font-size:13.5px;color:#000;white-space:nowrap;letter-spacing:-0.940px;">76%</div>
<div style="left:599.13px;top:601.92px;line-height:18px;font-size:13.5px;color:#000;white-space:nowrap;letter-spacing:-0.940px;">79%</div>
<div style="left:693.92px;top:601.92px;line-height:18px;font-size:13.5px;color:#000;white-space:nowrap;letter-spacing:-0.278px;">104</div>
<svg style="left:657.30px;top:602.14px;" width="14" height="16" viewBox="0 0 14 16"><path d="M7 0.6 L13.4 7.2 V11 L9.8 8 V15 H4.2 V8 L0.6 11 V7.2 Z" fill="#62b096" stroke="#3c8a71" stroke-width="1" stroke-linejoin="round"/></svg>
<div style="left:781.40px;top:600.54px;width:270.20px;height:19.67px;background:#fff;"></div>
<div style="left:811.13px;top:601.92px;line-height:18px;font-size:13.5px;color:#000;white-space:nowrap;letter-spacing:-0.940px;">76%</div>
<div style="left:896.13px;top:601.92px;line-height:18px;font-size:13.5px;color:#000;white-space:nowrap;letter-spacing:-0.940px;">79%</div>
<div style="left:990.92px;top:601.92px;line-height:18px;font-size:13.5px;color:#000;white-space:nowrap;letter-spacing:-0.278px;">104</div>
<svg style="left:954.30px;top:602.14px;" width="14" height="16" viewBox="0 0 14 16"><path d="M7 0.6 L13.4 7.2 V11 L9.8 8 V15 H4.2 V8 L0.6 11 V7.2 Z" fill="#62b096" stroke="#3c8a71" stroke-width="1" stroke-linejoin="round"/></svg>
<div style="left:167.20px;top:619.71px;width:233.20px;height:19.67px;background:#f8cbad;"></div>
<div style="left:400.40px;top:619.71px;width:59.20px;height:19.67px;background:#fff;"></div>
<div style="left:189.83px;top:621.09px;line-height:18px;font-size:13.5px;color:#d01f1f;white-space:nowrap;letter-spacing:-0.278px;">19</div>
<div style="left:238.96px;top:621.09px;line-height:18px;font-size:13.5px;color:#d01f1f;white-space:nowrap;letter-spacing:-0.384px;">Project Schedule Variance</div>
<div style="left:415.75px;top:621.09px;line-height:18px;font-size:13.5px;color:#000;white-space:nowrap;transform:scaleX(0.821);">USD</div>
<div style="left:486.40px;top:619.71px;width:268.20px;height:19.67px;background:#fff;"></div>
<div style="left:520.33px;top:621.09px;line-height:18px;font-size:13.5px;color:#000;white-space:nowrap;letter-spacing:-0.278px;">94</div>
<div style="left:604.33px;top:621.09px;line-height:18px;font-size:13.5px;color:#000;white-space:nowrap;letter-spacing:-0.278px;">87</div>
<div style="left:697.53px;top:621.09px;line-height:18px;font-size:13.5px;color:#000;white-space:nowrap;letter-spacing:-0.278px;">93</div>
<svg style="left:656.50px;top:622.41px;" width="17" height="14" viewBox="0 0 17 14"><path d="M0.6 4.4 H8.6 L5.2 0.7 H10.2 L16 6.9 L10.2 13.1 H5.2 L8.6 9.4 H0.6 Z" fill="#edc680" stroke="#c49443" stroke-width="1" stroke-linejoin="round"/></svg>
<div style="left:781.40px;top:619.71px;width:270.20px;height:19.67px;background:#fff;"></div>
<div style="left:816.33px;top:621.09px;line-height:18px;font-size:13.5px;color:#000;white-space:nowrap;letter-spacing:-0.278px;">94</div>
<div style="left:901.33px;top:621.09px;line-height:18px;font-size:13.5px;color:#000;white-space:nowrap;letter-spacing:-0.278px;">87</div>
<div style="left:994.53px;top:621.09px;line-height:18px;font-size:13.5px;color:#000;white-space:nowrap;letter-spacing:-0.278px;">93</div>
<svg style="left:953.50px;top:622.41px;" width="17" height="14" viewBox="0 0 17 14"><path d="M0.6 4.4 H8.6 L5.2 0.7 H10.2 L16 6.9 L10.2 13.1 H5.2 L8.6 9.4 H0.6 Z" fill="#edc680" stroke="#c49443" stroke-width="1" stroke-linejoin="round"/></svg>
<div style="left:167.20px;top:638.88px;width:233.20px;height:19.67px;background:#f8cbad;"></div>
<div style="left:400.40px;top:638.88px;width:59.20px;height:19.67px;background:#fff;"></div>
<div style="left:189.83px;top:640.26px;line-height:18px;font-size:13.5px;color:#d01f1f;white-space:nowrap;letter-spacing:-0.278px;">20</div>
<div style="left:252.03px;top:640.26px;line-height:18px;font-size:13.5px;color:#d01f1f;white-space:nowrap;letter-spacing:-0.341px;">Project Cost Variance</div>
<div style="left:415.75px;top:640.26px;line-height:18px;font-size:13.5px;color:#000;white-space:nowrap;transform:scaleX(0.821);">USD</div>
<div style="left:486.40px;top:638.88px;width:268.20px;height:19.67px;background:#fff;"></div>
<div style="left:520.33px;top:640.26px;line-height:18px;font-size:13.5px;color:#000;white-space:nowrap;letter-spacing:-0.278px;">82</div>
<div style="left:604.33px;top:640.26px;line-height:18px;font-size:13.5px;color:#000;white-space:nowrap;letter-spacing:-0.278px;">78</div>
<div style="left:697.53px;top:640.26px;line-height:18px;font-size:13.5px;color:#000;white-space:nowrap;letter-spacing:-0.278px;">96</div>
<svg style="left:656.50px;top:641.58px;" width="17" height="14" viewBox="0 0 17 14"><path d="M0.6 4.4 H8.6 L5.2 0.7 H10.2 L16 6.9 L10.2 13.1 H5.2 L8.6 9.4 H0.6 Z" fill="#edc680" stroke="#c49443" stroke-width="1" stroke-linejoin="round"/></svg>
<div style="left:781.40px;top:638.88px;width:270.20px;height:19.67px;background:#fff;"></div>
<div style="left:816.33px;top:640.26px;line-height:18px;font-size:13.5px;color:#000;white-space:nowrap;letter-spacing:-0.278px;">82</div>
<div style="left:901.33px;top:640.26px;line-height:18px;font-size:13.5px;color:#000;white-space:nowrap;letter-spacing:-0.278px;">78</div>
<div style="left:994.53px;top:640.26px;line-height:18px;font-size:13.5px;color:#000;white-space:nowrap;letter-spacing:-0.278px;">96</div>
<svg style="left:953.50px;top:641.58px;" width="17" height="14" viewBox="0 0 17 14"><path d="M0.6 4.4 H8.6 L5.2 0.7 H10.2 L16 6.9 L10.2 13.1 H5.2 L8.6 9.4 H0.6 Z" fill="#edc680" stroke="#c49443" stroke-width="1" stroke-linejoin="round"/></svg>
<div style="left:167.20px;top:658.05px;width:233.20px;height:19.67px;background:#c6e0b4;"></div>
<div style="left:400.40px;top:658.05px;width:59.20px;height:19.67px;background:#fff;"></div>
<div style="left:189.83px;top:659.44px;line-height:18px;font-size:13.5px;color:#4f7a31;white-space:nowrap;letter-spacing:-0.278px;">21</div>
<div style="left:275.66px;top:659.44px;line-height:18px;font-size:13.5px;color:#4f7a31;white-space:nowrap;letter-spacing:-0.484px;">Earned Value</div>
<div style="left:415.75px;top:659.44px;line-height:18px;font-size:13.5px;color:#000;white-space:nowrap;transform:scaleX(0.821);">USD</div>
<div style="left:486.40px;top:658.05px;width:268.20px;height:19.67px;background:#fff;"></div>
<div style="left:507.69px;top:659.44px;line-height:18px;font-size:13.5px;color:#000;white-space:nowrap;letter-spacing:-0.255px;">26.286</div>
<div style="left:591.69px;top:659.44px;line-height:18px;font-size:13.5px;color:#000;white-space:nowrap;letter-spacing:-0.255px;">28.886</div>
<div style="left:694.40px;top:659.44px;line-height:18px;font-size:13.5px;color:#000;white-space:nowrap;letter-spacing:-0.266px;">110</div>
<svg style="left:657.30px;top:659.65px;" width="14" height="16" viewBox="0 0 14 16"><path d="M7 0.6 L13.4 7.2 V11 L9.8 8 V15 H4.2 V8 L0.6 11 V7.2 Z" fill="#62b096" stroke="#3c8a71" stroke-width="1" stroke-linejoin="round"/></svg>
<div style="left:781.40px;top:658.05px;width:270.20px;height:19.67px;background:#fff;"></div>
<div style="left:803.69px;top:659.44px;line-height:18px;font-size:13.5px;color:#000;white-space:nowrap;letter-spacing:-0.255px;">26.286</div>
<div style="left:888.69px;top:659.44px;line-height:18px;font-size:13.5px;color:#000;white-space:nowrap;letter-spacing:-0.255px;">28.886</div>
<div style="left:991.40px;top:659.44px;line-height:18px;font-size:13.5px;color:#000;white-space:nowrap;letter-spacing:-0.266px;">110</div>
<svg style="left:954.30px;top:659.65px;" width="14" height="16" viewBox="0 0 14 16"><path d="M7 0.6 L13.4 7.2 V11 L9.8 8 V15 H4.2 V8 L0.6 11 V7.2 Z" fill="#62b096" stroke="#3c8a71" stroke-width="1" stroke-linejoin="round"/></svg>
<div style="left:167.20px;top:677.22px;width:233.20px;height:19.67px;background:#c6e0b4;"></div>
<div style="left:400.40px;top:677.22px;width:59.20px;height:19.67px;background:#fff;"></div>
<div style="left:189.83px;top:678.61px;line-height:18px;font-size:13.5px;color:#4f7a31;white-space:nowrap;letter-spacing:-0.278px;">22</div>
<div style="left:233.27px;top:678.61px;line-height:18px;font-size:13.5px;color:#4f7a31;white-space:nowrap;letter-spacing:-0.270px;">Order Fulfilment Cycle Time</div>
<div style="left:414.62px;top:678.61px;line-height:18px;font-size:13.5px;color:#000;white-space:nowrap;transform:scaleX(0.858);">Days</div>
<div style="left:486.40px;top:677.22px;width:268.20px;height:19.67px;background:#fff;"></div>
<div style="left:520.33px;top:678.61px;line-height:18px;font-size:13.5px;color:#000;white-space:nowrap;letter-spacing:-0.278px;">20</div>
<div style="left:604.33px;top:678.61px;line-height:18px;font-size:13.5px;color:#000;white-space:nowrap;letter-spacing:-0.278px;">19</div>
<div style="left:693.92px;top:678.61px;line-height:18px;font-size:13.5px;color:#000;white-space:nowrap;letter-spacing:-0.278px;">105</div>
<svg style="left:657.30px;top:678.82px;" width="14" height="16" viewBox="0 0 14 16"><path d="M7 0.6 L13.4 7.2 V11 L9.8 8 V15 H4.2 V8 L0.6 11 V7.2 Z" fill="#62b096" stroke="#3c8a71" stroke-width="1" stroke-linejoin="round"/></svg>
<div style="left:781.40px;top:677.22px;width:270.20px;height:19.67px;background:#fff;"></div>
<div style="left:816.33px;top:678.61px;line-height:18px;font-size:13.5px;color:#000;white-space:nowrap;letter-spacing:-0.278px;">20</div>
<div style="left:901.33px;top:678.61px;line-height:18px;font-size:13.5px;color:#000;white-space:nowrap;letter-spacing:-0.278px;">19</div>
<div style="left:990.92px;top:678.61px;line-height:18px;font-size:13.5px;color:#000;white-space:nowrap;letter-spacing:-0.278px;">105</div>
<svg style="left:954.30px;top:678.82px;" width="14" height="16" viewBox="0 0 14 16"><path d="M7 0.6 L13.4 7.2 V11 L9.8 8 V15 H4.2 V8 L0.6 11 V7.2 Z" fill="#62b096" stroke="#3c8a71" stroke-width="1" stroke-linejoin="round"/></svg>
<div style="left:166.80px;top:371.10px;width:293.20px;height:19.17px;background:#bec8d9;"></div>
<div style="left:486.00px;top:371.10px;width:269.00px;height:19.17px;background:#bec8d9;"></div>
<div style="left:781.00px;top:371.10px;width:271.00px;height:19.17px;background:#bec8d9;"></div>
<div style="left:234.03px;top:372.49px;line-height:16px;font-size:12.6px;color:#000;white-space:nowrap;font-weight:bold;letter-spacing:-0.546px;">FİNANCİAL PERFORMANCE</div>
<div style="left:166.80px;top:581.97px;width:293.20px;height:19.17px;background:#bec8d9;"></div>
<div style="left:486.00px;top:581.97px;width:269.00px;height:19.17px;background:#bec8d9;"></div>
<div style="left:781.00px;top:581.97px;width:271.00px;height:19.17px;background:#bec8d9;"></div>
<div style="left:249.11px;top:583.36px;line-height:16px;font-size:12.6px;color:#000;white-space:nowrap;font-weight:bold;letter-spacing:-0.978px;">INTERNAL PROCESSES</div>
<div style="left:167.00px;top:178.40px;width:1.30px;height:191.30px;background:#1a1a1a;"></div>
<div style="left:226.00px;top:178.40px;width:1.30px;height:191.30px;background:#1a1a1a;"></div>
<div style="left:400.00px;top:178.40px;width:1.30px;height:191.30px;background:#1a1a1a;"></div>
<div style="left:459.00px;top:178.40px;width:1.30px;height:191.30px;background:#1a1a1a;"></div>
<div style="left:167.00px;top:178.40px;width:293.30px;height:1.30px;background:#1a1a1a;"></div>
<div style="left:167.00px;top:197.40px;width:293.30px;height:1.30px;background:#1a1a1a;"></div>
<div style="left:167.00px;top:216.40px;width:293.30px;height:1.30px;background:#1a1a1a;"></div>
<div style="left:167.00px;top:235.40px;width:293.30px;height:1.30px;background:#1a1a1a;"></div>
<div style="left:167.00px;top:255.40px;width:293.30px;height:1.30px;background:#1a1a1a;"></div>
<div style="left:167.00px;top:274.40px;width:293.30px;height:1.30px;background:#1a1a1a;"></div>
<div style="left:167.00px;top:293.40px;width:293.30px;height:1.30px;background:#1a1a1a;"></div>
<div style="left:167.00px;top:312.40px;width:293.30px;height:1.30px;background:#1a1a1a;"></div>
<div style="left:167.00px;top:331.40px;width:293.30px;height:1.30px;background:#1a1a1a;"></div>
<div style="left:167.00px;top:350.40px;width:293.30px;height:1.30px;background:#1a1a1a;"></div>
<div style="left:167.00px;top:369.40px;width:293.30px;height:1.80px;background:#7030a0;"></div>
<div style="left:167.00px;top:389.40px;width:1.30px;height:191.30px;background:#1a1a1a;"></div>
<div style="left:226.00px;top:389.40px;width:1.30px;height:191.30px;background:#1a1a1a;"></div>
<div style="left:400.00px;top:389.40px;width:1.30px;height:191.30px;background:#1a1a1a;"></div>
<div style="left:459.00px;top:389.40px;width:1.30px;height:191.30px;background:#1a1a1a;"></div>
<div style="left:167.00px;top:389.40px;width:293.30px;height:1.30px;background:#1a1a1a;"></div>
<div style="left:167.00px;top:408.40px;width:293.30px;height:1.30px;background:#1a1a1a;"></div>
<div style="left:167.00px;top:427.40px;width:293.30px;height:1.30px;background:#1a1a1a;"></div>
<div style="left:167.00px;top:446.40px;width:293.30px;height:1.30px;background:#1a1a1a;"></div>
<div style="left:167.00px;top:465.40px;width:293.30px;height:1.30px;background:#1a1a1a;"></div>
<div style="left:167.00px;top:485.40px;width:293.30px;height:1.30px;background:#1a1a1a;"></div>
<div style="left:167.00px;top:504.40px;width:293.30px;height:1.30px;background:#1a1a1a;"></div>
<div style="left:167.00px;top:523.40px;width:293.30px;height:1.30px;background:#1a1a1a;"></div>
<div style="left:167.00px;top:542.40px;width:293.30px;height:1.30px;background:#1a1a1a;"></div>
<div style="left:167.00px;top:561.40px;width:293.30px;height:1.30px;background:#1a1a1a;"></div>
<div style="left:167.00px;top:580.40px;width:293.30px;height:1.80px;background:#7030a0;"></div>
<div style="left:167.00px;top:600.40px;width:1.30px;height:88.30px;background:#1a1a1a;"></div>
<div style="left:226.00px;top:600.40px;width:1.30px;height:88.30px;background:#1a1a1a;"></div>
<div style="left:400.00px;top:600.40px;width:1.30px;height:88.30px;background:#1a1a1a;"></div>
<div style="left:459.00px;top:600.40px;width:1.30px;height:88.30px;background:#1a1a1a;"></div>
<div style="left:167.00px;top:600.40px;width:293.30px;height:1.30px;background:#1a1a1a;"></div>
<div style="left:167.00px;top:619.40px;width:293.30px;height:1.30px;background:#1a1a1a;"></div>
<div style="left:167.00px;top:638.40px;width:293.30px;height:1.30px;background:#1a1a1a;"></div>
<div style="left:167.00px;top:657.40px;width:293.30px;height:1.30px;background:#1a1a1a;"></div>
<div style="left:167.00px;top:676.40px;width:293.30px;height:1.30px;background:#1a1a1a;"></div>
<div style="left:167.00px;top:695.40px;width:293.30px;height:1.30px;background:#1a1a1a;"></div>
<div style="left:486.00px;top:178.40px;width:1.30px;height:191.30px;background:#1a1a1a;"></div>
<div style="left:567.00px;top:178.40px;width:1.30px;height:191.30px;background:#1a1a1a;"></div>
<div style="left:654.00px;top:178.40px;width:1.30px;height:191.30px;background:#1a1a1a;"></div>
<div style="left:754.00px;top:178.40px;width:1.30px;height:191.30px;background:#1a1a1a;"></div>
<div style="left:486.00px;top:178.40px;width:269.30px;height:1.30px;background:#1a1a1a;"></div>
<div style="left:486.00px;top:197.40px;width:269.30px;height:1.30px;background:#1a1a1a;"></div>
<div style="left:486.00px;top:216.40px;width:269.30px;height:1.30px;background:#1a1a1a;"></div>
<div style="left:486.00px;top:235.40px;width:269.30px;height:1.30px;background:#1a1a1a;"></div>
<div style="left:486.00px;top:255.40px;width:269.30px;height:1.30px;background:#1a1a1a;"></div>
<div style="left:486.00px;top:274.40px;width:269.30px;height:1.30px;background:#1a1a1a;"></div>
<div style="left:486.00px;top:293.40px;width:269.30px;height:1.30px;background:#1a1a1a;"></div>
<div style="left:486.00px;top:312.40px;width:269.30px;height:1.30px;background:#1a1a1a;"></div>
<div style="left:486.00px;top:331.40px;width:269.30px;height:1.30px;background:#1a1a1a;"></div>
<div style="left:486.00px;top:350.40px;width:269.30px;height:1.30px;background:#1a1a1a;"></div>
<div style="left:486.00px;top:369.40px;width:269.30px;height:1.80px;background:#7030a0;"></div>
<div style="left:486.00px;top:389.40px;width:1.30px;height:191.30px;background:#1a1a1a;"></div>
<div style="left:567.00px;top:389.40px;width:1.30px;height:191.30px;background:#1a1a1a;"></div>
<div style="left:654.00px;top:389.40px;width:1.30px;height:191.30px;background:#1a1a1a;"></div>
<div style="left:754.00px;top:389.40px;width:1.30px;height:191.30px;background:#1a1a1a;"></div>
<div style="left:486.00px;top:389.40px;width:269.30px;height:1.30px;background:#1a1a1a;"></div>
<div style="left:486.00px;top:408.40px;width:269.30px;height:1.30px;background:#1a1a1a;"></div>
<div style="left:486.00px;top:427.40px;width:269.30px;height:1.30px;background:#1a1a1a;"></div>
<div style="left:486.00px;top:446.40px;width:269.30px;height:1.30px;background:#1a1a1a;"></div>
<div style="left:486.00px;top:465.40px;width:269.30px;height:1.30px;background:#1a1a1a;"></div>
<div style="left:486.00px;top:485.40px;width:269.30px;height:1.30px;background:#1a1a1a;"></div>
<div style="left:486.00px;top:504.40px;width:269.30px;height:1.30px;background:#1a1a1a;"></div>
<div style="left:486.00px;top:523.40px;width:269.30px;height:1.30px;background:#1a1a1a;"></div>
<div style="left:486.00px;top:542.40px;width:269.30px;height:1.30px;background:#1a1a1a;"></div>
<div style="left:486.00px;top:561.40px;width:269.30px;height:1.30px;background:#1a1a1a;"></div>
<div style="left:486.00px;top:580.40px;width:269.30px;height:1.80px;background:#7030a0;"></div>
<div style="left:486.00px;top:600.40px;width:1.30px;height:88.30px;background:#1a1a1a;"></div>
<div style="left:567.00px;top:600.40px;width:1.30px;height:88.30px;background:#1a1a1a;"></div>
<div style="left:654.00px;top:600.40px;width:1.30px;height:88.30px;background:#1a1a1a;"></div>
<div style="left:754.00px;top:600.40px;width:1.30px;height:88.30px;background:#1a1a1a;"></div>
<div style="left:486.00px;top:600.40px;width:269.30px;height:1.30px;background:#1a1a1a;"></div>
<div style="left:486.00px;top:619.40px;width:269.30px;height:1.30px;background:#1a1a1a;"></div>
<div style="left:486.00px;top:638.40px;width:269.30px;height:1.30px;background:#1a1a1a;"></div>
<div style="left:486.00px;top:657.40px;width:269.30px;height:1.30px;background:#1a1a1a;"></div>
<div style="left:486.00px;top:676.40px;width:269.30px;height:1.30px;background:#1a1a1a;"></div>
<div style="left:486.00px;top:695.40px;width:269.30px;height:1.30px;background:#1a1a1a;"></div>
<div style="left:781.00px;top:178.40px;width:1.30px;height:191.30px;background:#1a1a1a;"></div>
<div style="left:864.00px;top:178.40px;width:1.30px;height:191.30px;background:#1a1a1a;"></div>
<div style="left:951.00px;top:178.40px;width:1.30px;height:191.30px;background:#1a1a1a;"></div>
<div style="left:1051.00px;top:178.40px;width:1.30px;height:191.30px;background:#1a1a1a;"></div>
<div style="left:781.00px;top:178.40px;width:271.30px;height:1.30px;background:#1a1a1a;"></div>
<div style="left:781.00px;top:197.40px;width:271.30px;height:1.30px;background:#1a1a1a;"></div>
<div style="left:781.00px;top:216.40px;width:271.30px;height:1.30px;background:#1a1a1a;"></div>
<div style="left:781.00px;top:235.40px;width:271.30px;height:1.30px;background:#1a1a1a;"></div>
<div style="left:781.00px;top:255.40px;width:271.30px;height:1.30px;background:#1a1a1a;"></div>
<div style="left:781.00px;top:274.40px;width:271.30px;height:1.30px;background:#1a1a1a;"></div>
<div style="left:781.00px;top:293.40px;width:271.30px;height:1.30px;background:#1a1a1a;"></div>
<div style="left:781.00px;top:312.40px;width:271.30px;height:1.30px;background:#1a1a1a;"></div>
<div style="left:781.00px;top:331.40px;width:271.30px;height:1.30px;background:#1a1a1a;"></div>
<div style="left:781.00px;top:350.40px;width:271.30px;height:1.30px;background:#1a1a1a;"></div>
<div style="left:781.00px;top:369.40px;width:271.30px;height:1.80px;background:#7030a0;"></div>
<div style="left:781.00px;top:389.40px;width:1.30px;height:191.30px;background:#1a1a1a;"></div>
<div style="left:864.00px;top:389.40px;width:1.30px;height:191.30px;background:#1a1a1a;"></div>
<div style="left:951.00px;top:389.40px;width:1.30px;height:191.30px;background:#1a1a1a;"></div>
<div style="left:1051.00px;top:389.40px;width:1.30px;height:191.30px;background:#1a1a1a;"></div>
<div style="left:781.00px;top:389.40px;width:271.30px;height:1.30px;background:#1a1a1a;"></div>
<div style="left:781.00px;top:408.40px;width:271.30px;height:1.30px;background:#1a1a1a;"></div>
<div style="left:781.00px;top:427.40px;width:271.30px;height:1.30px;background:#1a1a1a;"></div>
<div style="left:781.00px;top:446.40px;width:271.30px;height:1.30px;background:#1a1a1a;"></div>
<div style="left:781.00px;top:465.40px;width:271.30px;height:1.30px;background:#1a1a1a;"></div>
<div style="left:781.00px;top:485.40px;width:271.30px;height:1.30px;background:#1a1a1a;"></div>
<div style="left:781.00px;top:504.40px;width:271.30px;height:1.30px;background:#1a1a1a;"></div>
<div style="left:781.00px;top:523.40px;width:271.30px;height:1.30px;background:#1a1a1a;"></div>
<div style="left:781.00px;top:542.40px;width:271.30px;height:1.30px;background:#1a1a1a;"></div>
<div style="left:781.00px;top:561.40px;width:271.30px;height:1.30px;background:#1a1a1a;"></div>
<div style="left:781.00px;top:580.40px;width:271.30px;height:1.80px;background:#7030a0;"></div>
<div style="left:781.00px;top:600.40px;width:1.30px;height:88.30px;background:#1a1a1a;"></div>
<div style="left:864.00px;top:600.40px;width:1.30px;height:88.30px;background:#1a1a1a;"></div>
<div style="left:951.00px;top:600.40px;width:1.30px;height:88.30px;background:#1a1a1a;"></div>
<div style="left:1051.00px;top:600.40px;width:1.30px;height:88.30px;background:#1a1a1a;"></div>
<div style="left:781.00px;top:600.40px;width:271.30px;height:1.30px;background:#1a1a1a;"></div>
<div style="left:781.00px;top:619.40px;width:271.30px;height:1.30px;background:#1a1a1a;"></div>
<div style="left:781.00px;top:638.40px;width:271.30px;height:1.30px;background:#1a1a1a;"></div>
<div style="left:781.00px;top:657.40px;width:271.30px;height:1.30px;background:#1a1a1a;"></div>
<div style="left:781.00px;top:676.40px;width:271.30px;height:1.30px;background:#1a1a1a;"></div>
<div style="left:781.00px;top:695.40px;width:271.30px;height:1.30px;background:#1a1a1a;"></div>
<div style="left:225.60px;top:74.20px;width:192.60px;height:101.00px;background:#fff;border:1px solid #4a4a4a;border-top-color:#111;box-shadow:1px 1px 0 rgba(0,0,0,.15);"></div>
<div style="left:226.80px;top:75.40px;width:171.60px;height:12.00px;background:#0a74d8;"></div>
<div style="left:399.40px;top:75.20px;width:17.80px;height:99.00px;background:#f0f0f0;"></div>
<div style="left:405.20px;top:94.40px;width:7.00px;height:40.40px;background:#8a8a8a;"></div>
<div style="left:230.00px;top:74.80px;line-height:14px;font-size:10.6px;color:#fff;white-space:nowrap;letter-spacing:-0.566px;">January</div>
<div style="left:230.00px;top:87.30px;line-height:14px;font-size:10.6px;color:#111;white-space:nowrap;letter-spacing:-0.521px;">February</div>
<div style="left:230.00px;top:99.80px;line-height:14px;font-size:10.6px;color:#111;white-space:nowrap;letter-spacing:-0.340px;">March</div>
<div style="left:230.00px;top:112.30px;line-height:14px;font-size:10.6px;color:#111;white-space:nowrap;letter-spacing:-0.141px;">April</div>
<div style="left:230.00px;top:124.80px;line-height:14px;font-size:10.6px;color:#111;white-space:nowrap;letter-spacing:-0.342px;">May</div>
<div style="left:230.00px;top:137.30px;line-height:14px;font-size:10.6px;color:#111;white-space:nowrap;letter-spacing:-0.746px;">June</div>
<div style="left:230.00px;top:149.80px;line-height:14px;font-size:10.6px;color:#111;white-space:nowrap;letter-spacing:-0.525px;">July</div>
<div style="left:230.00px;top:162.30px;line-height:14px;font-size:10.6px;color:#111;white-space:nowrap;letter-spacing:-0.209px;">August</div>
<div style="left:1083.60px;top:122.40px;width:173.60px;height:36.60px;background:#d9d9d9;"></div>
<div style="left:1136.73px;top:124.40px;line-height:17px;font-size:13px;color:#000;white-space:nowrap;font-weight:bold;letter-spacing:-0.346px;">Index Level</div>
<div style="left:1127.23px;top:142.40px;line-height:17px;font-size:13px;color:#000;white-space:nowrap;font-weight:bold;letter-spacing:-0.335px;">Color Intervals</div>
<div style="left:1083.60px;top:158.00px;width:174.00px;height:1.40px;background:#7030a0;"></div>
<div style="left:1084.00px;top:159.00px;width:91.00px;height:19.80px;background:#bec8d9;box-shadow:inset 0 0 0 2px #d5dbe7;"></div>
<div style="left:1175.00px;top:159.00px;width:82.00px;height:19.80px;background:#fff;"></div>
<div style="left:1111.44px;top:160.80px;line-height:17px;font-size:13px;color:#000;white-space:nowrap;font-weight:bold;letter-spacing:-0.314px;">Green</div>
<div style="left:1214.15px;top:160.30px;line-height:18px;font-size:13.5px;color:#000;white-space:nowrap;">-</div>
<div style="left:1084.00px;top:178.80px;width:91.00px;height:19.20px;background:#bec8d9;box-shadow:inset 0 0 0 2px #d5dbe7;"></div>
<div style="left:1175.00px;top:178.80px;width:82.00px;height:19.20px;background:#fff;"></div>
<div style="left:1109.77px;top:180.30px;line-height:17px;font-size:13px;color:#000;white-space:nowrap;font-weight:bold;letter-spacing:-0.160px;">Yellow</div>
<div style="left:1205.42px;top:179.80px;line-height:18px;font-size:13.5px;color:#000;white-space:nowrap;letter-spacing:-0.278px;">100</div>
<div style="left:1084.00px;top:198.00px;width:91.00px;height:19.20px;background:#bec8d9;box-shadow:inset 0 0 0 2px #d5dbe7;"></div>
<div style="left:1175.00px;top:198.00px;width:82.00px;height:19.20px;background:#fff;"></div>
<div style="left:1117.84px;top:199.50px;line-height:17px;font-size:13px;color:#000;white-space:nowrap;font-weight:bold;letter-spacing:-0.519px;">Red</div>
<div style="left:1209.03px;top:199.00px;line-height:18px;font-size:13.5px;color:#000;white-space:nowrap;letter-spacing:-0.278px;">80</div>
<div style="left:1084.00px;top:159.40px;width:1.30px;height:58.30px;background:#1a1a1a;"></div>
<div style="left:1175.00px;top:159.40px;width:1.30px;height:58.30px;background:#1a1a1a;"></div>
<div style="left:1256.00px;top:159.40px;width:1.30px;height:58.30px;background:#1a1a1a;"></div>
<div style="left:1084.00px;top:178.40px;width:173.30px;height:1.30px;background:#1a1a1a;"></div>
<div style="left:1084.00px;top:197.40px;width:173.30px;height:1.30px;background:#1a1a1a;"></div>
<div style="left:1084.00px;top:216.40px;width:173.30px;height:1.30px;background:#1a1a1a;"></div>
<div style="left:1084.00px;top:237.60px;width:218.40px;height:246.40px;background:#d6dce5;box-shadow:0 0 4px 1.2px rgba(70,60,60,.7);"></div>
<div style="left:1088.00px;top:244.00px;line-height:15px;font-size:11.5px;color:#1f1f1f;white-space:nowrap;font-weight:bold;font-style:italic;letter-spacing:-0.861px;">DASHBOARD</div>
<div style="left:1098.40px;top:278.20px;line-height:15px;font-size:11.5px;color:#1f1f1f;white-space:nowrap;font-style:italic;letter-spacing:-0.008px;">Choose the month that you would like</div>
<div style="left:1088.30px;top:283.80px;width:3.20px;height:3.20px;background:#1f1f1f;border-radius:50%;"></div>
<div style="left:1098.40px;top:291.80px;line-height:15px;font-size:11.5px;color:#1f1f1f;white-space:nowrap;font-style:italic;letter-spacing:0.047px;">to display it&#x27;s properties from the cell</div>
<div style="left:1098.40px;top:305.60px;line-height:15px;font-size:11.5px;color:#1f1f1f;white-space:nowrap;font-style:italic;letter-spacing:0.030px;">where blue arrow points.</div>
<div style="left:1098.40px;top:324.40px;line-height:15px;font-size:11.5px;color:#1f1f1f;white-space:nowrap;font-style:italic;letter-spacing:-0.082px;">Once selected the calculations will be</div>
<div style="left:1088.30px;top:330.00px;width:3.20px;height:3.20px;background:#1f1f1f;border-radius:50%;"></div>
<div style="left:1098.40px;top:338.40px;line-height:15px;font-size:11.5px;color:#1f1f1f;white-space:nowrap;font-style:italic;letter-spacing:0.057px;">done automatically. The one with the</div>
<div style="left:1098.40px;top:352.00px;line-height:15px;font-size:11.5px;color:#1f1f1f;white-space:nowrap;font-style:italic;letter-spacing:-0.029px;">lower better cases (which you stated in</div>
<div style="left:1098.40px;top:365.80px;line-height:15px;font-size:11.5px;color:#1f1f1f;white-space:nowrap;font-style:italic;letter-spacing:0.010px;">settings &gt; Metric info section ) will be</div>
<div style="left:1098.40px;top:379.40px;line-height:15px;font-size:11.5px;color:#1f1f1f;white-space:nowrap;font-style:italic;letter-spacing:0.055px;">calculated distinctively.</div>
<div style="left:1098.40px;top:398.60px;line-height:15px;font-size:11.5px;color:#1f1f1f;white-space:nowrap;font-style:italic;letter-spacing:-0.076px;">You may change the name of the</div>
<div style="left:1088.30px;top:404.20px;width:3.20px;height:3.20px;background:#1f1f1f;border-radius:50%;"></div>
<div style="left:1098.40px;top:411.10px;line-height:15px;font-size:11.5px;color:#1f1f1f;white-space:nowrap;font-style:italic;letter-spacing:-0.114px;">categories.</div>
<div style="left:1098.40px;top:430.30px;line-height:15px;font-size:11.5px;color:#1f1f1f;white-space:nowrap;font-style:italic;letter-spacing:0.034px;">If there is no proper format on the cell</div>
<div style="left:1088.30px;top:435.90px;width:3.20px;height:3.20px;background:#1f1f1f;border-radius:50%;"></div>
<div style="left:1098.40px;top:444.40px;line-height:15px;font-size:11.5px;color:#1f1f1f;white-space:nowrap;font-style:italic;letter-spacing:-0.088px;">you may select the cell and change its</div>
<div style="left:1098.40px;top:458.40px;line-height:15px;font-size:11.5px;color:#1f1f1f;white-space:nowrap;font-style:italic;letter-spacing:0.245px;">format.</div>
</div>
<div style="left:1577.30px;top:157.00px;width:4.00px;height:687.00px;background:#e2e2e2;"></div>
<div style="left:1581.00px;top:156.80px;width:17.00px;height:688.00px;background:#f5f5f5;border-radius:8.5px;"></div>
<svg style="left:1585.00px;top:162.00px;" width="10" height="7" viewBox="0 0 10 7"><path d="M5 0.6 L9.4 6.2 Q9.6 6.8 9 6.8 H1 Q0.4 6.8 0.6 6.2 Z" fill="#6e6e6e"/></svg>
<div style="left:1585.20px;top:174.00px;width:8.80px;height:326.00px;background:#707070;border-radius:4.4px;"></div>
<svg style="left:1585.00px;top:833.00px;" width="10" height="7" viewBox="0 0 10 7"><path d="M5 6.4 L9.4 0.8 Q9.6 0.2 9 0.2 H1 Q0.4 0.2 0.6 0.8 Z" fill="#6e6e6e"/></svg>
<div style="left:0.00px;top:843.20px;width:1600.00px;height:34.00px;background:#e4e4e4;"></div>
<svg style="left:25.00px;top:853.50px;" width="10" height="12" viewBox="0 0 10 12"><path d="M7.6 1 L1.6 6 L7.6 11" stroke="#333" stroke-width="1.25" fill="none"/></svg>
<svg style="left:59.00px;top:853.50px;" width="10" height="12" viewBox="0 0 10 12"><path d="M2.4 1 L8.4 6 L2.4 11" stroke="#a0a0a0" stroke-width="1.25" fill="none"/></svg>
<div style="left:90.60px;top:858.00px;width:2.60px;height:2.60px;background:#333;border-radius:50%;"></div>
<div style="left:95.00px;top:858.00px;width:2.60px;height:2.60px;background:#333;border-radius:50%;"></div>
<div style="left:99.40px;top:858.00px;width:2.60px;height:2.60px;background:#333;border-radius:50%;"></div>
<div style="left:117.50px;top:848.00px;width:126.50px;height:24.00px;background:#dbe3f5;border-radius:4.5px;"></div>
<div style="left:128.00px;top:850.40px;line-height:20px;font-size:15px;color:#1f1f1f;white-space:nowrap;letter-spacing:-0.516px;">Target_Database</div>
<div style="left:249.00px;top:851.00px;width:1.00px;height:18.00px;background:#d0d0d0;"></div>
<div style="left:253.20px;top:848.00px;width:138.80px;height:24.00px;background:#a6a6a6;border-radius:4.5px;"></div>
<div style="left:263.00px;top:850.40px;line-height:20px;font-size:15px;color:#1f1f1f;white-space:nowrap;letter-spacing:-0.357px;">Cumulative_Actual</div>
<div style="left:397.00px;top:851.00px;width:1.00px;height:18.00px;background:#d0d0d0;"></div>
<div style="left:401.80px;top:848.00px;width:140.00px;height:24.00px;background:#a6a6a6;border-radius:4.5px;"></div>
<div style="left:412.50px;top:850.40px;line-height:20px;font-size:15px;color:#1f1f1f;white-space:nowrap;letter-spacing:-0.327px;">Cumulative_Target</div>
<div style="left:546.50px;top:851.00px;width:1.00px;height:18.00px;background:#d0d0d0;"></div>
<div style="left:550.80px;top:848.00px;width:119.20px;height:24.00px;background:#7030a0;border-radius:4.5px;"></div>
<div style="left:561.00px;top:850.40px;line-height:20px;font-size:15px;color:#fff;white-space:nowrap;letter-spacing:-0.435px;">Metric_Analysis</div>
<div style="left:675.00px;top:851.00px;width:1.00px;height:18.00px;background:#d0d0d0;"></div>
<div style="left:679.00px;top:843.60px;width:116.50px;height:28.40px;background:linear-gradient(#fdfbf3 40%,#fdf3d8);border-radius:5px;box-shadow:0 0 2px rgba(0,0,0,.18);"></div>
<div style="left:688.00px;top:847.20px;line-height:20px;font-size:15px;color:#111;white-space:nowrap;letter-spacing:-0.354px;text-shadow:0.35px 0 0 #111;">Kpi_Dashboard</div>
<div style="left:688.00px;top:867.00px;width:99.00px;height:2.20px;background:#16803c;border-radius:1px;"></div>
<div style="left:800.50px;top:851.00px;width:1.00px;height:18.00px;background:#d0d0d0;"></div>
<div style="left:814.50px;top:850.40px;line-height:20px;font-size:15px;color:#333;white-space:nowrap;letter-spacing:-0.392px;">ToU</div>
<div style="left:853.00px;top:851.00px;width:1.00px;height:18.00px;background:#d0d0d0;"></div>
<svg style="left:897.00px;top:853.00px;" width="12" height="12" viewBox="0 0 12 12"><path d="M6 0.4 V11.6 M0.4 6 H11.6" stroke="#8a8a8a" stroke-width="1.2"/></svg>
<div style="left:962.20px;top:854.80px;width:2.20px;height:2.20px;background:#222;border-radius:50%;"></div>
<div style="left:962.20px;top:858.80px;width:2.20px;height:2.20px;background:#222;border-radius:50%;"></div>
<div style="left:962.20px;top:862.80px;width:2.20px;height:2.20px;background:#222;border-radius:50%;"></div>
<div style="left:980.00px;top:851.60px;width:599.00px;height:17.00px;background:#f5f5f5;border-radius:8.5px;"></div>
<svg style="left:985.50px;top:855.50px;" width="7" height="9" viewBox="0 0 7 9"><path d="M0.6 4.5 L6 0.5 Q6.6 0.3 6.6 1 V8 Q6.6 8.7 6 8.5 Z" fill="#6e6e6e"/></svg>
<div style="left:997.50px;top:855.40px;width:334.00px;height:8.80px;background:#707070;border-radius:4.4px;"></div>
<svg style="left:1567.00px;top:855.50px;" width="7" height="9" viewBox="0 0 7 9"><path d="M6.4 4.5 L1 0.5 Q0.4 0.3 0.4 1 V8 Q0.4 8.7 1 8.5 Z" fill="#6e6e6e"/></svg>
<div style="left:0.00px;top:877.20px;width:1600.00px;height:22.80px;background:#f3f3f3;"></div>
<div style="left:7.50px;top:880.60px;line-height:16px;font-size:12px;color:#3b3b3b;white-space:nowrap;letter-spacing:-0.937px;">Ready</div>
<svg style="left:58.00px;top:881.00px;" width="16" height="15" viewBox="0 0 16 15"><path d="M1 13.4 V1.2 H14.6 V6 M1 4.4 H14.6 M1 13.4 H6" stroke="#444" stroke-width="1.15" fill="none"/><path d="M3.4 7.2 H6.4 M3.4 10 H5.4" stroke="#444" stroke-width="1.1"/><circle cx="10.6" cy="10.4" r="3.7" stroke="#444" stroke-width="1.1" fill="none"/><circle cx="10.6" cy="10.4" r="1.7" fill="#444"/></svg>
<svg style="left:91.50px;top:880.50px;" width="16" height="16" viewBox="0 0 16 16"><circle cx="7" cy="2.5" r="1.75" stroke="#444" stroke-width="1" fill="none"/><path d="M1.3 3.6 L5.2 5.6 H8.8 L12.7 3.6 L13.5 5 L9.4 7.4 V9.6 L10.4 12 M4.6 7.4 L0.6 5 L1.3 3.6 M4.6 7.4 V10 L2.8 14.8 L4.2 15.4 L7 10.6 L8 12.4" stroke="#444" stroke-width="1" fill="none" stroke-linejoin="round"/><path d="M9.2 10.4 L14.8 15.6 M14.8 10.4 L9.2 15.6" stroke="#444" stroke-width="1.15"/></svg>
<div style="left:110.00px;top:881.30px;line-height:15px;font-size:11.5px;color:#3b3b3b;white-space:nowrap;letter-spacing:-0.390px;">Accessibility: Investigate</div>
<div style="left:1290.00px;top:877.20px;width:41.80px;height:22.80px;background:#dcdcdc;"></div>
<svg style="left:1303.50px;top:881.50px;" width="14" height="14" viewBox="0 0 14 14"><path d="M0.8 0.8 H13.2 V13.2 H0.8 Z M0.8 4.9 H13.2 M0.8 9.1 H13.2 M4.9 0.8 V13.2 M9.1 0.8 V13.2" stroke="#333" stroke-width="1.3" fill="none"/></svg>
<svg style="left:1345.00px;top:881.50px;" width="15" height="14" viewBox="0 0 15 14"><rect x="0.7" y="0.7" width="13.6" height="12.6" stroke="#444" stroke-width="1.2" fill="none"/><rect x="3.6" y="3" width="7.8" height="8.2" stroke="#444" stroke-width="1" fill="none"/><path d="M5.4 5.4 H9.6 M5.4 7.2 H9.6 M5.4 9 H9.6" stroke="#444" stroke-width=".8"/></svg>
<svg style="left:1386.50px;top:881.50px;" width="15" height="14" viewBox="0 0 15 14"><path d="M0.7 0.7 H14.3 V13.3 H0.7 Z" stroke="#444" stroke-width="1.2" fill="none"/><path d="M0.7 7.4 H14.3 M4.6 0.7 V7.4 M8.2 0.7 V7.4" stroke="#444" stroke-width="1.2" fill="none"/></svg>
<div style="left:1421.00px;top:887.60px;width:7.60px;height:1.20px;background:#555;"></div>
<div style="left:1434.00px;top:887.80px;width:104.00px;height:1.00px;background:#8a8a8a;"></div>
<div style="left:1478.60px;top:882.60px;width:4.60px;height:11.20px;background:#5a5a5a;border-radius:1px;"></div>
<div style="left:1486.00px;top:885.00px;width:1.00px;height:6.40px;background:#8a8a8a;"></div>
<svg style="left:1543.00px;top:884.00px;" width="9" height="9" viewBox="0 0 9 9"><path d="M4.5 0.6 V8.4 M0.6 4.5 H8.4" stroke="#555" stroke-width="1.15"/></svg>
<div style="left:1565.00px;top:881.30px;line-height:15px;font-size:11.5px;color:#3b3b3b;white-space:nowrap;letter-spacing:-0.739px;">%90</div>
</body></html>
